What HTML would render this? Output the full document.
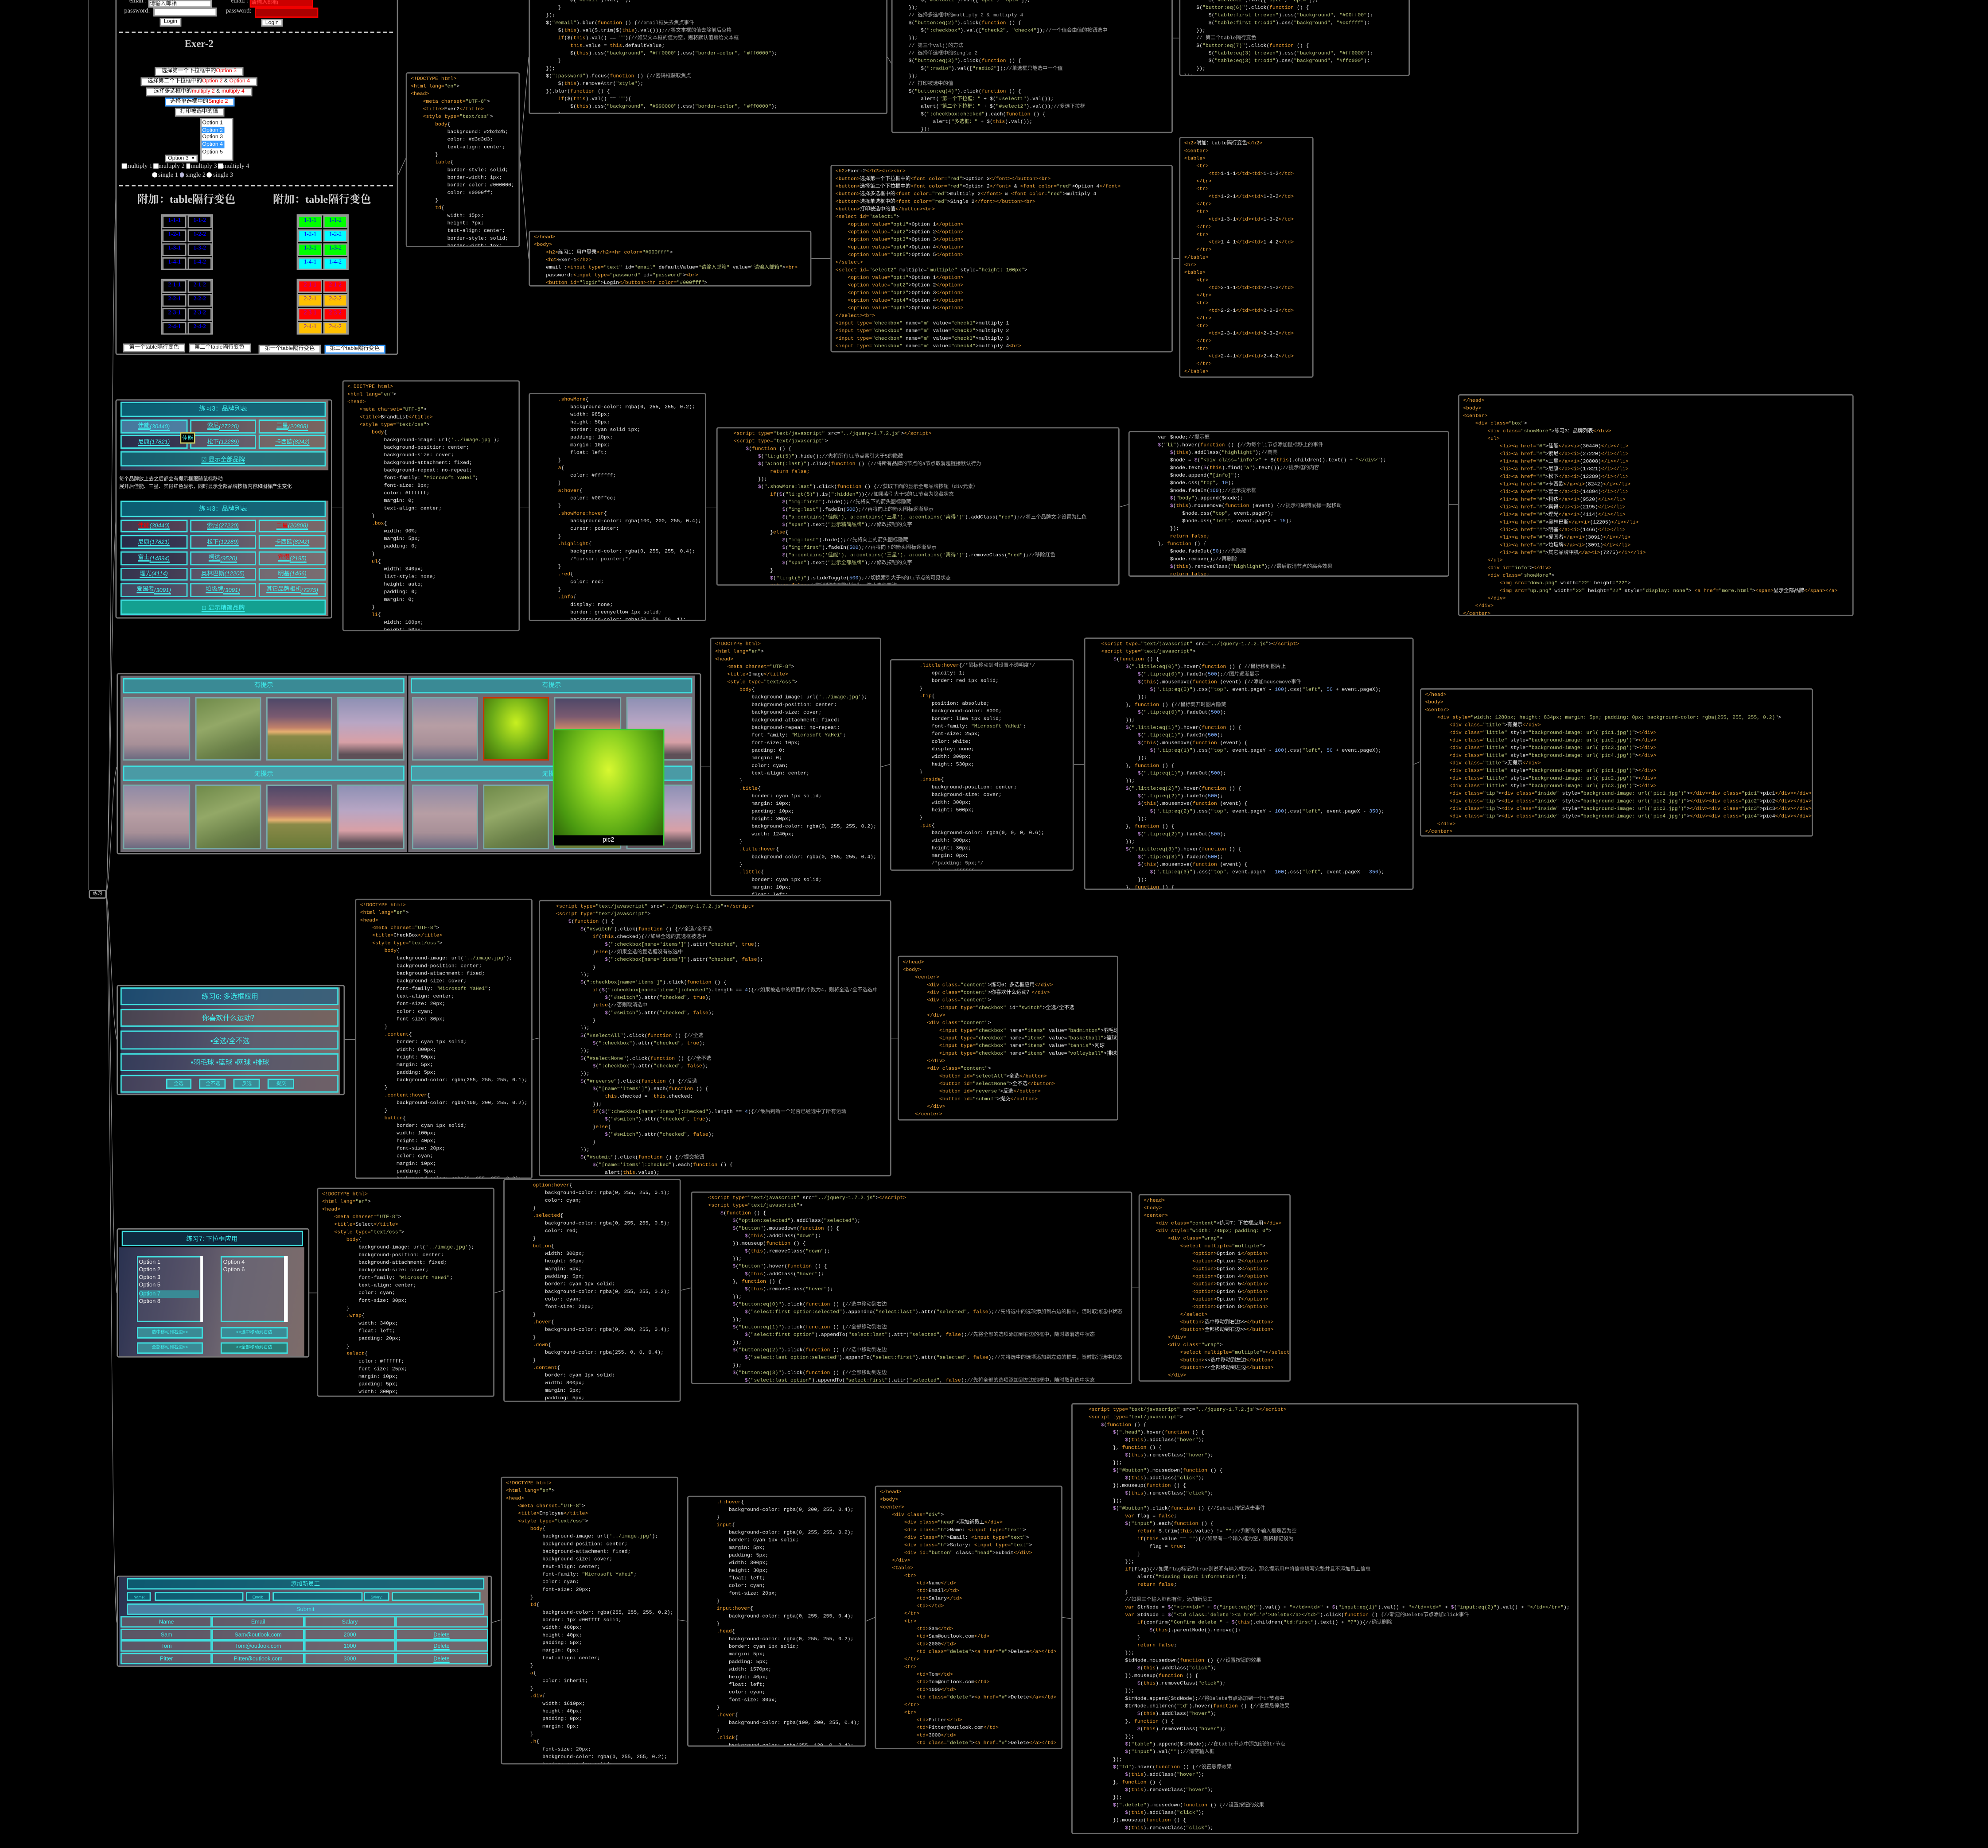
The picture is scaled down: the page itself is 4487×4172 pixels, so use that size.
<!DOCTYPE html>
<html><head><meta charset="UTF-8">
<style>
html,body{margin:0;padding:0;background:#000;}
body{width:4487px;height:4171px;overflow:hidden;position:relative;}
#s{position:absolute;left:0;top:0;width:1568px;height:1458px;transform:scale(2.8616);transform-origin:0 0;}
.a{position:absolute;box-sizing:border-box;}
.cb{position:absolute;box-sizing:border-box;border:0.45px solid #6a6a6a;border-radius:1.6px;background:#000;overflow:hidden;}
.cb pre{margin:0;padding:1.5px 3px;font:4px/6px "Liberation Mono","Noto Sans CJK SC",monospace;color:#e2e2e2;white-space:pre;}
.t{color:#e9a23b}.s{color:#b9c47a}.c{color:#a9a9a9}.k{color:#f0a030}.p{color:#c58be0}.n{color:#7fb0ff}
.pan{position:absolute;box-sizing:border-box;border:0.45px solid #777;border-radius:1.6px;background:#000;}
.sf{font-family:"Liberation Serif","Noto Serif CJK SC",serif;color:#cfcfcf;}
.ss{font-family:"Liberation Sans","Noto Sans CJK SC",sans-serif;}
.wb{position:absolute;box-sizing:border-box;background:#fff;border:0.3px solid #999;font:4.3px/1 "Liberation Sans","Noto Sans CJK SC",sans-serif;color:#111;text-align:center;display:flex;align-items:center;justify-content:center;white-space:nowrap;}
.r{color:#e00}
.tb{position:absolute;box-sizing:border-box;border:0.4px solid #3fe0e0;background:rgba(15,120,140,.55);color:#3ff0f0;font-family:"Liberation Sans","Noto Sans CJK SC",sans-serif;text-align:center;display:flex;align-items:center;justify-content:center;white-space:nowrap;}
.cell{position:absolute;box-sizing:border-box;border:0.3px solid #999;font:bold 4.6px/1 "Liberation Serif",serif;color:#00f;display:flex;align-items:center;justify-content:center;}
.im{position:absolute;box-sizing:border-box;border:0.3px solid #7aa;}
.im1{background:linear-gradient(180deg,#8f8aa6 0%,#b79ea4 45%,#a89098 75%,#6c6a80 100%);}
.im2{background:linear-gradient(160deg,#6f8a4a,#93a867 40%,#6a8048 75%,#5a6a40 100%);}
.im3{background:linear-gradient(180deg,#4e4868 0%,#7a5a70 30%,#c0806a 48%,#e6b070 55%,#8a8a48 62%,#6a7a38 100%);}
.im4{background:linear-gradient(180deg,#8e90b4 0%,#b8a6c4 40%,#d8a0a6 72%,#5e5058 92%);}
.ph{background:linear-gradient(100deg,#2a3250 0%,#4a4660 30%,#6e6670 60%,#7d6c6a 100%);}
.u{text-decoration:underline}
</style></head><body><div id="s">

<svg class="a" style="left:0;top:0;width:1568px;height:1458px" viewBox="0 0 1568 1458">
<g fill="none" stroke="#8a8a8a" stroke-width="0.45">
<path d="M70 0 L70 702"/>
<path d="M84 705 C88 600 88 200 92 140"/>
<path d="M84 705 C88 600 88 450 92 400"/>
<path d="M84 705 C88 680 88 620 92 605"/>
<path d="M84 705 C88 740 88 800 92 820"/>
<path d="M84 705 C88 800 88 980 92 1020"/>
<path d="M84 705 C88 900 88 1240 92 1280"/>
<path d="M313 140 L320 125"/><path d="M410 125 L417 45"/><path d="M410 125 L417 204"/>
<path d="M700 45 L703 50"/><path d="M925 30 L930 30"/><path d="M640 204 L655 204"/><path d="M925 204 L930 204"/>
<path d="M262 400 L270 400"/><path d="M410 400 L417 400"/><path d="M557 400 L565 400"/><path d="M883 400 L890 398"/><path d="M1143 398 L1150 398"/>
<path d="M552 605 L560 605"/><path d="M695 605 L702 603"/><path d="M847 603 L855 603"/><path d="M1115 603 L1120 601"/>
<path d="M272 820 L280 820"/><path d="M420 820 L425 819"/><path d="M703 819 L708 819"/>
<path d="M243 1020 L250 1020"/><path d="M390 1020 L397 1018"/><path d="M537 1018 L545 1016"/><path d="M893 1016 L898 1016"/>
<path d="M388 1280 L395 1278"/><path d="M535 1278 L542 1279"/><path d="M683 1279 L690 1276"/><path d="M838 1276 L845 1277"/>
</g></svg>
<div class="a ss" style="left:70px;top:702px;width:14px;height:7px;border:0.4px solid #888;border-radius:1.5px;color:#fff;font-size:3.6px;display:flex;align-items:center;justify-content:center">练习</div>

<!-- Panel A -->
<div class="pan" style="left:91px;top:-5px;width:222.5px;height:285px"></div>
<div class="a sf" style="left:102px;top:-1px;font-size:5px">email :</div>
<div class="wb" style="left:117px;top:0;width:50px;height:5.6px;justify-content:flex-start;color:#333">请输入邮箱</div>
<div class="a sf" style="left:98px;top:6.5px;font-size:5px">password:</div>
<div class="wb" style="left:121px;top:5.6px;width:50px;height:7.6px"></div>
<div class="wb" style="left:126px;top:14px;width:17px;height:6.5px">Login</div>
<div class="a sf" style="left:182px;top:-1px;font-size:5px">email :</div>
<div class="wb" style="left:197px;top:-1px;width:50px;height:7px;background:#c00;border-color:#f00;color:#f33;justify-content:flex-start;font-weight:bold">请输入邮箱</div>
<div class="a sf" style="left:178px;top:6.5px;font-size:5px">password:</div>
<div class="wb" style="left:201px;top:6px;width:50px;height:7.6px;background:#a00;border-color:#e00"></div>
<div class="wb" style="left:206px;top:14.5px;width:17px;height:6.5px">Login</div>
<div class="a" style="left:94px;top:25px;width:216px;border-top:0.35px dashed #ccc"></div>
<div class="a sf" style="left:137px;top:30px;width:40px;text-align:center;font-size:8px;font-weight:bold">Exer-2</div>
<div class="wb" style="left:122px;top:53px;width:70px;height:7px">选择第一个下拉框中的<span class="r">Option 3</span></div>
<div class="wb" style="left:110.5px;top:61px;width:92.5px;height:7px">选择第二个下拉框中的<span class="r">Option 2</span>&nbsp;&amp;&nbsp;<span class="r">Option 4</span></div>
<div class="wb" style="left:115px;top:69px;width:84px;height:7px">选择多选框中的<span class="r">multiply 2</span>&nbsp;&amp;&nbsp;<span class="r">multiply 4</span></div>
<div class="wb" style="left:129.5px;top:77px;width:55px;height:7px;border-color:#39f">选择单选框中的<span class="r">Single 2</span></div>
<div class="wb" style="left:137.5px;top:85px;width:39px;height:7px">打印被选中的值</div>
<div class="a" style="left:157.5px;top:92.7px;width:26px;height:34.7px;background:#fff;border:0.3px solid #999;font:4.3px/5.6px 'Liberation Sans',sans-serif;color:#111;padding-top:0.5px">
<div style="padding-left:1px">Option 1</div><div style="padding-left:1px;background:#39f;color:#fff;width:17px">Option 2</div><div style="padding-left:1px">Option 3</div><div style="padding-left:1px;background:#39f;color:#fff;width:17px">Option 4</div><div style="padding-left:1px">Option 5</div></div>
<div class="wb" style="left:130px;top:121.6px;width:26px;height:6.4px;justify-content:flex-start;padding-left:1.5px">Option 3 &nbsp;▾</div>
<div class="a sf" style="left:96px;top:129px;font-size:5px;white-space:nowrap"><span style="display:inline-block;width:3.5px;height:3.5px;background:#fff"></span>multiply 1 <span style="display:inline-block;width:3.5px;height:3.5px;background:#fff"></span>multiply 2 <span style="display:inline-block;width:3.5px;height:3.5px;background:#fff"></span>multiply 3 <span style="display:inline-block;width:3.5px;height:3.5px;background:#fff"></span>multiply 4</div>
<div class="a sf" style="left:120px;top:136px;font-size:5px;white-space:nowrap"><span style="display:inline-block;width:3.5px;height:3.5px;background:#fff;border-radius:50%"></span> single 1 <span style="display:inline-block;width:3.5px;height:3.5px;background:#bbd;border-radius:50%"></span> single 2 <span style="display:inline-block;width:3.5px;height:3.5px;background:#fff;border-radius:50%"></span> single 3</div>
<div class="a" style="left:94px;top:146px;width:216px;border-top:0.35px dashed #ccc"></div>
<div class="a sf" style="left:102px;top:151px;width:90px;text-align:center;font-size:8.5px;font-weight:bold;white-space:nowrap">附加：table隔行变色</div>
<div class="a sf" style="left:209px;top:151px;width:90px;text-align:center;font-size:8.5px;font-weight:bold;white-space:nowrap">附加：table隔行变色</div>

<div class="a" style="left:127px;top:168.5px;width:40.5px;height:44.5px;border:0.3px solid #999"></div>
<div class="cell" style="left:128px;top:169.5px;width:19.3px;height:10.3px">1-1-1</div><div class="cell" style="left:148px;top:169.5px;width:19px;height:10.3px">1-1-2</div>
<div class="cell" style="left:128px;top:180.5px;width:19.3px;height:10.3px">1-2-1</div><div class="cell" style="left:148px;top:180.5px;width:19px;height:10.3px">1-2-2</div>
<div class="cell" style="left:128px;top:191.5px;width:19.3px;height:10.3px">1-3-1</div><div class="cell" style="left:148px;top:191.5px;width:19px;height:10.3px">1-3-2</div>
<div class="cell" style="left:128px;top:202.5px;width:19.3px;height:10.3px">1-4-1</div><div class="cell" style="left:148px;top:202.5px;width:19px;height:10.3px">1-4-2</div>
<div class="a" style="left:127px;top:219.5px;width:40.5px;height:44.5px;border:0.3px solid #999"></div>
<div class="cell" style="left:128px;top:220.5px;width:19.3px;height:10.3px">2-1-1</div><div class="cell" style="left:148px;top:220.5px;width:19px;height:10.3px">2-1-2</div>
<div class="cell" style="left:128px;top:231.5px;width:19.3px;height:10.3px">2-2-1</div><div class="cell" style="left:148px;top:231.5px;width:19px;height:10.3px">2-2-2</div>
<div class="cell" style="left:128px;top:242.5px;width:19.3px;height:10.3px">2-3-1</div><div class="cell" style="left:148px;top:242.5px;width:19px;height:10.3px">2-3-2</div>
<div class="cell" style="left:128px;top:253.5px;width:19.3px;height:10.3px">2-4-1</div><div class="cell" style="left:148px;top:253.5px;width:19px;height:10.3px">2-4-2</div>

<div class="a" style="left:234px;top:168.5px;width:40.5px;height:44.5px;border:0.3px solid #999"></div>
<div class="cell" style="left:235px;top:169.5px;width:19.3px;height:10.3px;background:#0f0;font-weight:normal">1-1-1</div><div class="cell" style="left:255px;top:169.5px;width:19px;height:10.3px;background:#0f0;font-weight:normal">1-1-2</div>
<div class="cell" style="left:235px;top:180.5px;width:19.3px;height:10.3px;background:#0ff;font-weight:normal">1-2-1</div><div class="cell" style="left:255px;top:180.5px;width:19px;height:10.3px;background:#0ff;font-weight:normal">1-2-2</div>
<div class="cell" style="left:235px;top:191.5px;width:19.3px;height:10.3px;background:#0f0;font-weight:normal">1-3-1</div><div class="cell" style="left:255px;top:191.5px;width:19px;height:10.3px;background:#0f0;font-weight:normal">1-3-2</div>
<div class="cell" style="left:235px;top:202.5px;width:19.3px;height:10.3px;background:#0ff;font-weight:normal">1-4-1</div><div class="cell" style="left:255px;top:202.5px;width:19px;height:10.3px;background:#0ff;font-weight:normal">1-4-2</div>
<div class="a" style="left:234px;top:219.5px;width:40.5px;height:44.5px;border:0.3px solid #999"></div>
<div class="cell" style="left:235px;top:220.5px;width:19.3px;height:10.3px;background:#f00;color:#80f;font-weight:normal">2-1-1</div><div class="cell" style="left:255px;top:220.5px;width:19px;height:10.3px;background:#f00;color:#80f;font-weight:normal">2-1-2</div>
<div class="cell" style="left:235px;top:231.5px;width:19.3px;height:10.3px;background:#ffc000;color:#60c;font-weight:normal">2-2-1</div><div class="cell" style="left:255px;top:231.5px;width:19px;height:10.3px;background:#ffc000;color:#60c;font-weight:normal">2-2-2</div>
<div class="cell" style="left:235px;top:242.5px;width:19.3px;height:10.3px;background:#f00;color:#80f;font-weight:normal">2-3-1</div><div class="cell" style="left:255px;top:242.5px;width:19px;height:10.3px;background:#f00;color:#80f;font-weight:normal">2-3-2</div>
<div class="cell" style="left:235px;top:253.5px;width:19.3px;height:10.3px;background:#ffc000;color:#60c;font-weight:normal">2-4-1</div><div class="cell" style="left:255px;top:253.5px;width:19px;height:10.3px;background:#ffc000;color:#60c;font-weight:normal">2-4-2</div>
<div class="wb" style="left:97px;top:271px;width:49px;height:7px">第一个table隔行变色</div>
<div class="wb" style="left:148.6px;top:271px;width:49px;height:7px">第二个table隔行变色</div>
<div class="wb" style="left:204px;top:271.5px;width:49px;height:7px">第一个table隔行变色</div>
<div class="wb" style="left:255.5px;top:271.5px;width:48.5px;height:7px;border-color:#39f">第二个table隔行变色</div>

<!-- Panel B -->
<div class="pan" style="left:91.4px;top:315px;width:171px;height:172.6px"></div>
<div class="a ph" style="left:95px;top:316px;width:164px;height:55px"></div>
<div class="a ph" style="left:95px;top:395px;width:164px;height:91px"></div>
<div class="tb" style="left:95px;top:316.6px;width:162px;height:12.4px;font-size:5px;background:rgba(5,100,120,.85)">练习3：品牌列表</div>
<div class="tb u" style="left:95px;top:331px;width:52.8px;height:10.6px;font-size:4.6px;background:rgba(80,150,190,.7)">佳能<i>(30440)</i></div>
<div class="tb u" style="left:149.6px;top:331px;width:52.8px;height:10.6px;font-size:4.6px;background:rgba(100,80,80,.4)">索尼<i>(27220)</i></div>
<div class="tb u" style="left:204px;top:331px;width:53.2px;height:10.6px;font-size:4.6px;background:rgba(120,90,80,.4)">三星<i>(20808)</i></div>
<div class="tb u" style="left:95px;top:343.4px;width:52.8px;height:10.6px;font-size:4.6px;background:rgba(30,30,60,.4)">尼康<i>(17821)</i></div>
<div class="tb u" style="left:149.6px;top:343.4px;width:52.8px;height:10.6px;font-size:4.6px;background:rgba(90,80,100,.4)">松下<i>(12289)</i></div>
<div class="tb u" style="left:204px;top:343.4px;width:53.2px;height:10.6px;font-size:4.6px;background:rgba(120,100,90,.4)">卡西欧<i>(8242)</i></div>
<div class="a ss" style="left:141.7px;top:341px;width:12.6px;height:9px;background:#000;border:0.3px solid #cc6;color:#3ff0f0;font-size:4.4px;display:flex;align-items:center;justify-content:center">佳能</div>
<div class="tb u" style="left:95px;top:356px;width:162px;height:12.4px;font-size:4.8px;background:rgba(10,110,120,.7)">☑ 显示全部品牌</div>
<div class="a ss" style="left:94px;top:374.5px;font-size:3.9px;line-height:6.2px;color:#ddd;white-space:nowrap">每个品牌放上去之后都会有提示框跟随鼠标移动<br>展开后佳能、三星、宾得红色显示，同时显示全部品牌按钮内容和图标产生变化</div>
<div class="tb" style="left:95px;top:395.2px;width:162px;height:12.8px;font-size:5px;background:rgba(5,100,120,.85)">练习3：品牌列表</div>
<div class="tb u" style="left:95px;top:409.6px;width:52.6px;height:10.8px;font-size:4.6px;background:rgba(100,60,70,.4)"><span class="r">佳能</span><i>(30440)</i></div>
<div class="tb u" style="left:149.5px;top:409.6px;width:52.6px;height:10.8px;font-size:4.6px;background:rgba(100,80,90,.4)">索尼<i>(27220)</i></div>
<div class="tb u" style="left:204px;top:409.6px;width:53px;height:10.8px;font-size:4.6px;background:rgba(120,100,100,.4)"><span class="r">三星</span><i>(20808)</i></div>
<div class="tb u" style="left:95px;top:422.3px;width:52.6px;height:10.8px;font-size:4.6px;background:rgba(30,30,60,.4)">尼康<i>(17821)</i></div>
<div class="tb u" style="left:149.5px;top:422.3px;width:52.6px;height:10.8px;font-size:4.6px;background:rgba(90,80,100,.4)">松下<i>(12289)</i></div>
<div class="tb u" style="left:204px;top:422.3px;width:53px;height:10.8px;font-size:4.6px;background:rgba(120,100,110,.4)">卡西欧<i>(8242)</i></div>
<div class="tb u" style="left:95px;top:435px;width:52.6px;height:10.8px;font-size:4.6px;background:rgba(30,30,50,.4)">富士<i>(14894)</i></div>
<div class="tb u" style="left:149.5px;top:435px;width:52.6px;height:10.8px;font-size:4.6px;background:rgba(90,90,110,.4)">柯达<i>(9520)</i></div>
<div class="tb u" style="left:204px;top:435px;width:53px;height:10.8px;font-size:4.6px;background:rgba(120,110,120,.4)"><span class="r">宾得</span><i>(2195)</i></div>
<div class="tb u" style="left:95px;top:447.5px;width:52.6px;height:10.8px;font-size:4.6px;background:rgba(60,50,70,.4)">理光<i>(4114)</i></div>
<div class="tb u" style="left:149.5px;top:447.5px;width:52.6px;height:10.8px;font-size:4.6px;background:rgba(100,90,110,.4)">奥林巴斯<i>(12205)</i></div>
<div class="tb u" style="left:204px;top:447.5px;width:53px;height:10.8px;font-size:4.6px;background:rgba(120,110,120,.4)">明基<i>(1466)</i></div>
<div class="tb u" style="left:95px;top:460px;width:52.6px;height:10.8px;font-size:4.6px;background:rgba(90,90,110,.4)">爱国者<i>(3091)</i></div>
<div class="tb u" style="left:149.5px;top:460px;width:52.6px;height:10.8px;font-size:4.6px;background:rgba(100,100,110,.4)">垃圾牌<i>(3091)</i></div>
<div class="tb u" style="left:204px;top:460px;width:53px;height:10.8px;font-size:4.6px;background:rgba(110,110,120,.4)">其它品牌相机<i>(7275)</i></div>
<div class="tb u" style="left:95px;top:473px;width:162px;height:12px;font-size:4.8px;background:#13a090">⊡ 显示精简品牌</div>

<!-- Panel C -->
<div class="pan" style="left:91.5px;top:531px;width:461px;height:143px"></div>
<div class="a" style="left:95.2px;top:533px;width:225.6px;height:139px;background:#6e6a72"></div>
<div class="a" style="left:322px;top:533px;width:226px;height:139px;background:#6e6a72"></div>
<div class="tb" style="left:97px;top:534.6px;width:222px;height:12px;font-size:5px;background:#3a8a95">有提示</div>
<div class="tb" style="left:324.2px;top:534.6px;width:221.8px;height:12px;font-size:5px;background:#3a8a95">有提示</div>
<div class="im im1" style="left:97.4px;top:550px;width:52.4px;height:50.3px"></div>
<div class="im im2" style="left:153.9px;top:550px;width:52.1px;height:50.3px"></div>
<div class="im im3" style="left:210px;top:550px;width:52.1px;height:50.3px"></div>
<div class="im im4" style="left:266.2px;top:550px;width:52.4px;height:50.3px"></div>
<div class="im im1" style="left:324.5px;top:550px;width:52.5px;height:50.3px"></div>
<div class="im" style="left:381px;top:550px;width:52.4px;height:50.3px;background:radial-gradient(ellipse at 50% 40%,#c8f020,#6aaa18 55%,#3a6a08);border:0.5px solid #c30"></div>
<div class="im im3" style="left:437.2px;top:550px;width:52.4px;height:50.3px"></div>
<div class="im im4" style="left:493.6px;top:550px;width:52.4px;height:50.3px"></div>
<div class="tb" style="left:97px;top:604px;width:222px;height:12px;font-size:5px;background:#4a9aa5">无提示</div>
<div class="tb" style="left:324.2px;top:604px;width:221.8px;height:12px;font-size:5px;background:#4a9aa5">无提示</div>
<div class="im im1" style="left:97.4px;top:619.2px;width:52.4px;height:50.4px"></div>
<div class="im im2" style="left:153.9px;top:619.2px;width:52.1px;height:50.4px"></div>
<div class="im im3" style="left:210px;top:619.2px;width:52.1px;height:50.4px"></div>
<div class="im im4" style="left:266.2px;top:619.2px;width:52.4px;height:50.4px"></div>
<div class="im im1" style="left:324.5px;top:619.2px;width:52.5px;height:50.4px"></div>
<div class="im im2" style="left:381px;top:619.2px;width:52.4px;height:50.4px"></div>
<div class="im im3" style="left:437.2px;top:619.2px;width:52.4px;height:50.4px"></div>
<div class="im im4" style="left:493.6px;top:619.2px;width:52.4px;height:50.4px"></div>
<div class="a" style="left:436.2px;top:575.4px;width:87.4px;height:92px;border:0.4px solid #3c3;background:radial-gradient(ellipse at 50% 35%,#d8f830,#8ad020 35%,#4a9a10 70%,#2a5a08)"></div>
<div class="a ss" style="left:436.6px;top:659px;width:86.6px;height:8px;background:#000;color:#fff;font-size:5px;display:flex;align-items:center;justify-content:center">pic2</div>

<!-- Panel D -->
<div class="pan" style="left:91.5px;top:777px;width:180.3px;height:87px"></div>
<div class="a ph" style="left:95px;top:778.5px;width:173px;height:84.5px"></div>
<div class="tb" style="left:95.3px;top:778.8px;width:172.2px;height:14.7px;font-size:5.5px;background:rgba(20,90,130,.6)">练习6: 多选框应用</div>
<div class="tb" style="left:95.3px;top:796.3px;width:172.2px;height:14.2px;font-size:5.5px;background:rgba(110,90,80,.4)">你喜欢什么运动？</div>
<div class="tb" style="left:95.3px;top:813.3px;width:172.2px;height:14.5px;font-size:5.5px;background:rgba(70,80,110,.4)">▪全选/全不选</div>
<div class="tb" style="left:95.3px;top:830.6px;width:172.2px;height:14.6px;font-size:5.5px;background:rgba(60,70,100,.4)">▪羽毛球 ▪篮球 ▪网球 ▪排球</div>
<div class="tb" style="left:95.3px;top:847.6px;width:172.2px;height:14.9px;background:rgba(90,80,100,.4)"></div>
<div class="tb" style="left:130.5px;top:850.9px;width:20.8px;height:8.4px;font-size:3.8px;background:#3a8a95">全选</div>
<div class="tb" style="left:157.4px;top:850.9px;width:21.1px;height:8.4px;font-size:3.8px;background:#3a8a95">全不选</div>
<div class="tb" style="left:184.2px;top:850.9px;width:21.1px;height:8.4px;font-size:3.8px;background:#3a8a95">反选</div>
<div class="tb" style="left:211.3px;top:850.9px;width:21px;height:8.4px;font-size:3.8px;background:#3a8a95">提交</div>

<!-- Panel E -->
<div class="pan" style="left:91.5px;top:969.4px;width:152px;height:101.3px"></div>
<div class="a ph" style="left:94px;top:984px;width:146px;height:86px"></div>
<div class="tb" style="left:95.5px;top:971.4px;width:143.3px;height:12.1px;font-size:5px;background:rgba(20,60,90,.7)">练习7: 下拉框应用</div>
<div class="a" style="left:107.7px;top:990.7px;width:52.5px;height:52.3px;border:0.3px solid #4dd;background:rgba(90,90,110,.4)"></div>
<div class="a" style="left:157.5px;top:990.9px;width:2.5px;height:52px;background:#fff"></div>
<div class="a ss" style="left:109.5px;top:992.5px;font-size:4.5px;line-height:6.3px;color:#eee">Option 1<br>Option 2<br>Option 3<br>Option 5<br><span style="color:#3ff0f0;background:#3a8a95;display:inline-block;width:47px">Option 7</span><br>Option 8</div>
<div class="a" style="left:174.2px;top:990.7px;width:52.5px;height:52.3px;border:0.3px solid #4dd;background:rgba(100,100,120,.4)"></div>
<div class="a" style="left:224px;top:990.9px;width:2.5px;height:52px;background:#fff"></div>
<div class="a ss" style="left:176px;top:992.5px;font-size:4.5px;line-height:6.3px;color:#eee">Option 4<br>Option 6</div>
<div class="tb" style="left:107.7px;top:1046.6px;width:52.5px;height:9px;font-size:3.5px;background:#3a8a95">选中移动到右边&gt;&gt;</div>
<div class="tb" style="left:174.2px;top:1046.6px;width:52.5px;height:9px;font-size:3.5px;background:#3a8a95">&lt;&lt;选中移动到右边</div>
<div class="tb" style="left:107.7px;top:1058.9px;width:52.5px;height:8.8px;font-size:3.5px;background:#3a8a95">全部移动到右边&gt;&gt;</div>
<div class="tb" style="left:174.2px;top:1058.9px;width:52.5px;height:8.8px;font-size:3.5px;background:#2a7a75">&lt;&lt;全部移动到右边</div>

<!-- Panel F -->
<div class="pan" style="left:91.7px;top:1243px;width:296px;height:72px"></div>
<div class="a ph" style="left:94px;top:1244px;width:291px;height:70px"></div>
<div class="tb" style="left:100.1px;top:1245.3px;width:281.5px;height:8.8px;font-size:4.6px;background:rgba(5,100,120,.8)">添加新员工</div>
<div class="tb" style="left:100.1px;top:1256px;width:19.3px;height:7.3px;font-size:3px;background:rgba(5,100,120,.8)">Name:</div>
<div class="tb" style="left:121.5px;top:1256px;width:70.2px;height:7.3px;background:rgba(5,100,120,.8)"></div>
<div class="tb" style="left:193.7px;top:1256px;width:19.2px;height:7.3px;font-size:3px;background:rgba(5,100,120,.8)">Email:</div>
<div class="tb" style="left:215px;top:1256px;width:70.5px;height:7.3px;background:rgba(5,100,120,.8)"></div>
<div class="tb" style="left:287.4px;top:1256px;width:19.2px;height:7.3px;font-size:3px;background:rgba(5,100,120,.8)">Salary:</div>
<div class="tb" style="left:308.6px;top:1256px;width:70.4px;height:7.3px;background:rgba(20,110,110,.8)"></div>
<div class="tb" style="left:100.1px;top:1265px;width:281.5px;height:9.2px;font-size:4.6px;background:rgba(80,140,175,.85)">Submit</div>
<div class="a" style="left:95.2px;top:1275.3px;width:289.3px;height:37.5px;background:rgba(110,100,110,.7)"></div>
<div class="tb" style="left:95.2px;top:1275.3px;width:72.2px;height:9.2px;font-size:4.4px;background:transparent">Name</div>
<div class="tb" style="left:167.4px;top:1275.3px;width:72.4px;height:9.2px;font-size:4.4px;background:transparent">Email</div>
<div class="tb" style="left:239.8px;top:1275.3px;width:72.2px;height:9.2px;font-size:4.4px;background:transparent">Salary</div>
<div class="tb" style="left:312px;top:1275.3px;width:72.5px;height:9.2px;background:transparent"></div>
<div class="tb" style="left:95.2px;top:1285px;width:72.2px;height:9px;font-size:4.4px;background:transparent">Sam</div>
<div class="tb" style="left:167.4px;top:1285px;width:72.4px;height:9px;font-size:4.4px;background:transparent">Sam@outlook.com</div>
<div class="tb" style="left:239.8px;top:1285px;width:72.2px;height:9px;font-size:4.4px;background:transparent">2000</div>
<div class="tb u" style="left:312px;top:1285px;width:72.5px;height:9px;font-size:4.4px;background:transparent">Delete</div>
<div class="tb" style="left:95.2px;top:1294.4px;width:72.2px;height:9px;font-size:4.4px;background:transparent">Tom</div>
<div class="tb" style="left:167.4px;top:1294.4px;width:72.4px;height:9px;font-size:4.4px;background:transparent">Tom@outlook.com</div>
<div class="tb" style="left:239.8px;top:1294.4px;width:72.2px;height:9px;font-size:4.4px;background:transparent">1000</div>
<div class="tb u" style="left:312px;top:1294.4px;width:72.5px;height:9px;font-size:4.4px;background:transparent">Delete</div>
<div class="tb" style="left:95.2px;top:1303.9px;width:72.2px;height:9px;font-size:4.4px;background:transparent">Pitter</div>
<div class="tb" style="left:167.4px;top:1303.9px;width:72.4px;height:9px;font-size:4.4px;background:transparent">Pitter@outlook.com</div>
<div class="tb" style="left:239.8px;top:1303.9px;width:72.2px;height:9px;font-size:4.4px;background:transparent">3000</div>
<div class="tb u" style="left:312px;top:1303.9px;width:72.5px;height:9px;font-size:4.4px;background:transparent">Delete</div>

<!-- Code boxes -->
<div class="cb" style="left:320px;top:57px;width:90px;height:138px"><pre><span class="t">&lt;!DOCTYPE html&gt;</span>
<span class="t">&lt;html lang=</span><span class="s">"en"</span>&gt;
<span class="t">&lt;head&gt;</span>
    <span class="t">&lt;meta charset=</span><span class="s">"UTF-8"</span>&gt;
    <span class="t">&lt;title&gt;</span>Exer2<span class="t">&lt;/title&gt;</span>
    <span class="t">&lt;style type=</span><span class="s">"text/css"</span>&gt;
        <span class="k">body</span>{
            background: #2b2b2b;
            color: #d3d3d3;
            text-align: center;
        }
        <span class="k">table</span>{
            border-style: solid;
            border-width: 1px;
            border-color: #000000;
            color: #0000ff;
        }
        <span class="k">td</span>{
            width: 15px;
            height: 7px;
            text-align: center;
            border-style: solid;
            border-width: 1px;
            border-color: #000000;
        }
    <span class="t">&lt;/style&gt;</span></pre></div>

<div class="cb" style="left:417px;top:-5px;width:283px;height:95px"><pre>            $(<span class="s">"#email"</span>).val(<span class="s">""</span>);
        }
    });
    $(<span class="s">"#email"</span>).blur(<span class="k">function</span> () {<span class="c">//email框失去焦点事件</span>
        $(<span class="k">this</span>).val($.trim($(<span class="k">this</span>).val()));<span class="c">//将文本框的值去除前后空格</span>
        <span class="k">if</span>($(<span class="k">this</span>).val() == <span class="s">""</span>){<span class="c">//如果文本框的值为空，则将默认值赋给文本框</span>
            <span class="k">this</span>.value = <span class="k">this</span>.defaultValue;
            $(<span class="k">this</span>).css(<span class="s">"background"</span>, <span class="s">"#ff0000"</span>).css(<span class="s">"border-color"</span>, <span class="s">"#ff0000"</span>);
        }
    });
    $(<span class="s">":password"</span>).focus(<span class="k">function</span> () {<span class="c">//密码框获取焦点</span>
        $(<span class="k">this</span>).removeAttr(<span class="s">"style"</span>);
    }).blur(<span class="k">function</span> () {
        <span class="k">if</span>($(<span class="k">this</span>).val() == <span class="s">""</span>){
            $(<span class="k">this</span>).css(<span class="s">"background"</span>, <span class="s">"#990000"</span>).css(<span class="s">"border-color"</span>, <span class="s">"#ff0000"</span>);
        }
    });</pre></div>

<div class="cb" style="left:417px;top:182px;width:223px;height:44px"><pre><span class="t">&lt;/head&gt;</span>
<span class="t">&lt;body&gt;</span>
    <span class="t">&lt;h2&gt;</span>练习1：用户登录<span class="t">&lt;/h2&gt;&lt;hr color=</span><span class="s">"#000fff"</span>&gt;
    <span class="t">&lt;h2&gt;</span>Exer-1<span class="t">&lt;/h2&gt;</span>
    email :<span class="t">&lt;input type=</span><span class="s">"text"</span> id=<span class="s">"email"</span> defaultValue=<span class="s">"请输入邮箱"</span> value=<span class="s">"请输入邮箱"</span>&gt;<span class="t">&lt;br&gt;</span>
    password:<span class="t">&lt;input type=</span><span class="s">"password"</span> id=<span class="s">"password"</span>&gt;<span class="t">&lt;br&gt;</span>
    <span class="t">&lt;button id=</span><span class="s">"login"</span>&gt;Login<span class="t">&lt;/button&gt;&lt;hr color=</span><span class="s">"#000fff"</span>&gt;</pre></div>

<div class="cb" style="left:703px;top:-5px;width:222px;height:110px"><pre>        $(<span class="s">"#select1"</span>).val([<span class="s">"opt2"</span>, <span class="s">"opt4"</span>]);
    });
    <span class="c">// 选择多选框中的multiply 2 & multiply 4</span>
    $(<span class="s">"button:eq(2)"</span>).click(<span class="k">function</span> () {
        $(<span class="s">":checkbox"</span>).val([<span class="s">"check2"</span>, <span class="s">"check4"</span>]);<span class="c">//一个值会由值的按钮选中</span>
    });
    <span class="c">// 第三个val()的方法</span>
    <span class="c">// 选择单选框中的Single 2</span>
    $(<span class="s">"button:eq(3)"</span>).click(<span class="k">function</span> () {
        $(<span class="s">":radio"</span>).val([<span class="s">"radio2"</span>]);<span class="c">//单选框只能选中一个值</span>
    });
    <span class="c">// 打印被选中的值</span>
    $(<span class="s">"button:eq(4)"</span>).click(<span class="k">function</span> () {
        alert(<span class="s">"第一个下拉框："</span> + $(<span class="s">"#select1"</span>).val());
        alert(<span class="s">"第二个下拉框："</span> + $(<span class="s">"#select2"</span>).val());<span class="c">//多选下拉框</span>
        $(<span class="s">":checkbox:checked"</span>).each(<span class="k">function</span> () {
            alert(<span class="s">"多选框："</span> + $(<span class="k">this</span>).val());
        });
        alert(<span class="s">"单选框："</span> + $(<span class="s">":radio:checked"</span>).val());
    });</pre></div>

<div class="cb" style="left:930px;top:-5px;width:182px;height:65px"><pre>        $(<span class="s">"#select2"</span>).val([<span class="s">"opt2"</span>, <span class="s">"opt4"</span>]);
    $(<span class="s">"button:eq(6)"</span>).click(<span class="k">function</span> () {
        $(<span class="s">"table:first tr:even"</span>).css(<span class="s">"background"</span>, <span class="s">"#00ff00"</span>);
        $(<span class="s">"table:first tr:odd"</span>).css(<span class="s">"background"</span>, <span class="s">"#00ffff"</span>);
    });
    <span class="c">// 第二个table隔行变色</span>
    $(<span class="s">"button:eq(7)"</span>).click(<span class="k">function</span> () {
        $(<span class="s">"table:eq(3) tr:even"</span>).css(<span class="s">"background"</span>, <span class="s">"#ff0000"</span>);
        $(<span class="s">"table:eq(3) tr:odd"</span>).css(<span class="s">"background"</span>, <span class="s">"#ffc000"</span>);
    });
});
<span class="t">&lt;/script&gt;</span></pre></div>

<div class="cb" style="left:655px;top:130px;width:270px;height:148px"><pre><span class="t">&lt;h2&gt;</span>Exer-2<span class="t">&lt;/h2&gt;&lt;br&gt;&lt;br&gt;</span>
<span class="t">&lt;button&gt;</span>选择第一个下拉框中的<span class="t">&lt;font color=</span><span class="s">"red"</span>&gt;Option 3<span class="t">&lt;/font&gt;&lt;/button&gt;&lt;br&gt;</span>
<span class="t">&lt;button&gt;</span>选择第二个下拉框中的<span class="t">&lt;font color=</span><span class="s">"red"</span>&gt;Option 2<span class="t">&lt;/font&gt;</span> &amp; <span class="t">&lt;font color=</span><span class="s">"red"</span>&gt;Option 4<span class="t">&lt;/font&gt;</span>
<span class="t">&lt;button&gt;</span>选择多选框中的<span class="t">&lt;font color=</span><span class="s">"red"</span>&gt;multiply 2<span class="t">&lt;/font&gt;</span> &amp; <span class="t">&lt;font color=</span><span class="s">"red"</span>&gt;multiply 4
<span class="t">&lt;button&gt;</span>选择单选框中的<span class="t">&lt;font color=</span><span class="s">"red"</span>&gt;Single 2<span class="t">&lt;/font&gt;&lt;/button&gt;&lt;br&gt;</span>
<span class="t">&lt;button&gt;</span>打印被选中的值<span class="t">&lt;/button&gt;&lt;br&gt;</span>
<span class="t">&lt;select id=</span><span class="s">"select1"</span>&gt;
    <span class="t">&lt;option value=</span><span class="s">"opt1"</span>&gt;Option 1<span class="t">&lt;/option&gt;</span>
    <span class="t">&lt;option value=</span><span class="s">"opt2"</span>&gt;Option 2<span class="t">&lt;/option&gt;</span>
    <span class="t">&lt;option value=</span><span class="s">"opt3"</span>&gt;Option 3<span class="t">&lt;/option&gt;</span>
    <span class="t">&lt;option value=</span><span class="s">"opt4"</span>&gt;Option 4<span class="t">&lt;/option&gt;</span>
    <span class="t">&lt;option value=</span><span class="s">"opt5"</span>&gt;Option 5<span class="t">&lt;/option&gt;</span>
<span class="t">&lt;/select&gt;</span>
<span class="t">&lt;select id=</span><span class="s">"select2"</span> multiple=<span class="s">"multiple"</span> style=<span class="s">"height: 100px"</span>&gt;
    <span class="t">&lt;option value=</span><span class="s">"opt1"</span>&gt;Option 1<span class="t">&lt;/option&gt;</span>
    <span class="t">&lt;option value=</span><span class="s">"opt2"</span>&gt;Option 2<span class="t">&lt;/option&gt;</span>
    <span class="t">&lt;option value=</span><span class="s">"opt3"</span>&gt;Option 3<span class="t">&lt;/option&gt;</span>
    <span class="t">&lt;option value=</span><span class="s">"opt4"</span>&gt;Option 4<span class="t">&lt;/option&gt;</span>
    <span class="t">&lt;option value=</span><span class="s">"opt5"</span>&gt;Option 5<span class="t">&lt;/option&gt;</span>
<span class="t">&lt;/select&gt;&lt;br&gt;</span>
<span class="t">&lt;input type=</span><span class="s">"checkbox"</span> name=<span class="s">"m"</span> value=<span class="s">"check1"</span>&gt;multiply 1
<span class="t">&lt;input type=</span><span class="s">"checkbox"</span> name=<span class="s">"m"</span> value=<span class="s">"check2"</span>&gt;multiply 2
<span class="t">&lt;input type=</span><span class="s">"checkbox"</span> name=<span class="s">"m"</span> value=<span class="s">"check3"</span>&gt;multiply 3
<span class="t">&lt;input type=</span><span class="s">"checkbox"</span> name=<span class="s">"m"</span> value=<span class="s">"check4"</span>&gt;multiply 4<span class="t">&lt;br&gt;</span>
<span class="t">&lt;input type=</span><span class="s">"radio"</span> name=<span class="s">"s"</span> value=<span class="s">"radio1"</span>&gt;single 1
<span class="t">&lt;input type=</span><span class="s">"radio"</span> name=<span class="s">"s"</span> value=<span class="s">"radio2"</span>&gt;single 2
<span class="t">&lt;input type=</span><span class="s">"radio"</span> name=<span class="s">"s"</span> value=<span class="s">"radio3"</span>&gt;single 3<span class="t">&lt;hr color=</span><span class="s">"#000fff"</span>&gt;</pre></div>

<div class="cb" style="left:930px;top:108px;width:106px;height:190px"><pre><span class="t">&lt;h2&gt;</span>附加：table隔行变色<span class="t">&lt;/h2&gt;</span>
<span class="t">&lt;center&gt;</span>
<span class="t">&lt;table&gt;</span>
    <span class="t">&lt;tr&gt;</span>
        <span class="t">&lt;td&gt;</span>1-1-1<span class="t">&lt;/td&gt;&lt;td&gt;</span>1-1-2<span class="t">&lt;/td&gt;</span>
    <span class="t">&lt;/tr&gt;</span>
    <span class="t">&lt;tr&gt;</span>
        <span class="t">&lt;td&gt;</span>1-2-1<span class="t">&lt;/td&gt;&lt;td&gt;</span>1-2-2<span class="t">&lt;/td&gt;</span>
    <span class="t">&lt;/tr&gt;</span>
    <span class="t">&lt;tr&gt;</span>
        <span class="t">&lt;td&gt;</span>1-3-1<span class="t">&lt;/td&gt;&lt;td&gt;</span>1-3-2<span class="t">&lt;/td&gt;</span>
    <span class="t">&lt;/tr&gt;</span>
    <span class="t">&lt;tr&gt;</span>
        <span class="t">&lt;td&gt;</span>1-4-1<span class="t">&lt;/td&gt;&lt;td&gt;</span>1-4-2<span class="t">&lt;/td&gt;</span>
    <span class="t">&lt;/tr&gt;</span>
<span class="t">&lt;/table&gt;</span>
<span class="t">&lt;br&gt;</span>
<span class="t">&lt;table&gt;</span>
    <span class="t">&lt;tr&gt;</span>
        <span class="t">&lt;td&gt;</span>2-1-1<span class="t">&lt;/td&gt;&lt;td&gt;</span>2-1-2<span class="t">&lt;/td&gt;</span>
    <span class="t">&lt;/tr&gt;</span>
    <span class="t">&lt;tr&gt;</span>
        <span class="t">&lt;td&gt;</span>2-2-1<span class="t">&lt;/td&gt;&lt;td&gt;</span>2-2-2<span class="t">&lt;/td&gt;</span>
    <span class="t">&lt;/tr&gt;</span>
    <span class="t">&lt;tr&gt;</span>
        <span class="t">&lt;td&gt;</span>2-3-1<span class="t">&lt;/td&gt;&lt;td&gt;</span>2-3-2<span class="t">&lt;/td&gt;</span>
    <span class="t">&lt;/tr&gt;</span>
    <span class="t">&lt;tr&gt;</span>
        <span class="t">&lt;td&gt;</span>2-4-1<span class="t">&lt;/td&gt;&lt;td&gt;</span>2-4-2<span class="t">&lt;/td&gt;</span>
    <span class="t">&lt;/tr&gt;</span>
<span class="t">&lt;/table&gt;</span>
<span class="t">&lt;/center&gt;&lt;br&gt;</span>
<span class="t">&lt;button&gt;</span>第一个table隔行变色<span class="t">&lt;/button&gt;</span>
<span class="t">&lt;button&gt;</span>第二个table隔行变色<span class="t">&lt;/button&gt;</span>
<span class="t">&lt;/body&gt;</span>
<span class="t">&lt;/html&gt;</span></pre></div>

<div class="cb" style="left:270px;top:300px;width:140px;height:198px"><pre><span class="t">&lt;!DOCTYPE html&gt;</span>
<span class="t">&lt;html lang=</span><span class="s">"en"</span>&gt;
<span class="t">&lt;head&gt;</span>
    <span class="t">&lt;meta charset=</span><span class="s">"UTF-8"</span>&gt;
    <span class="t">&lt;title&gt;</span>BrandList<span class="t">&lt;/title&gt;</span>
    <span class="t">&lt;style type=</span><span class="s">"text/css"</span>&gt;
        <span class="k">body</span>{
            background-image: url(<span class="s">'../image.jpg'</span>);
            background-position: center;
            background-size: cover;
            background-attachment: fixed;
            background-repeat: no-repeat;
            font-family: <span class="s">"Microsoft YaHei"</span>;
            font-size: 8px;
            color: #ffffff;
            margin: 0;
            text-align: center;
        }
        <span class="k">.box</span>{
            width: 90%;
            margin: 5px;
            padding: 0;
        }
        <span class="k">ul</span>{
            width: 340px;
            list-style: none;
            height: auto;
            padding: 0;
            margin: 0;
        }
        <span class="k">li</span>{
            width: 100px;
            height: 50px;
            float: left;
            margin: 5px;
            padding: 5px 0px;
            border: cyan solid 1px;
            background-color: rgba(255, 255, 255, 0.1);</pre></div>

<div class="cb" style="left:417px;top:310px;width:140px;height:180px"><pre>        <span class="k">.showMore</span>{
            background-color: rgba(0, 255, 255, 0.2);
            width: 985px;
            height: 50px;
            border: cyan solid 1px;
            padding: 10px;
            margin: 10px;
            float: left;
        }
        <span class="k">a</span>{
            color: #ffffff;
        }
        <span class="k">a:hover</span>{
            color: #00ffcc;
        }
        <span class="k">.showMore:hover</span>{
            background-color: rgba(100, 200, 255, 0.4);
            cursor: pointer;
        }
        <span class="k">.highlight</span>{
            background-color: rgba(0, 255, 255, 0.4);
            <span class="c">/*cursor: pointer;*/</span>
        }
        <span class="k">.red</span>{
            color: red;
        }
        <span class="k">.info</span>{
            display: none;
            border: greenyellow 1px solid;
            background-color: rgba(50, 50, 50, 1);
            padding: 5px;
            position: absolute;
        }
    <span class="t">&lt;/style&gt;</span></pre></div>

<div class="cb" style="left:565px;top:337px;width:318px;height:125px"><pre>    <span class="t">&lt;script type=</span><span class="s">"text/javascript"</span> src=<span class="s">"../jquery-1.7.2.js"</span>&gt;<span class="t">&lt;/script&gt;</span>
    <span class="t">&lt;script type=</span><span class="s">"text/javascript"</span>&gt;
        <span class="p">$</span>(<span class="k">function</span> () {
            <span class="p">$</span>(<span class="s">"li:gt(5)"</span>).hide();<span class="c">//先将所有li节点索引大于5的隐藏</span>
            <span class="p">$</span>(<span class="s">"a:not(:last)"</span>).click(<span class="k">function</span> () {<span class="c">//将所有品牌的节点的a节点取消超链接默认行为</span>
                <span class="k">return false;</span>
            });
            <span class="p">$</span>(<span class="s">".showMore:last"</span>).click(<span class="k">function</span> () {<span class="c">//获取下面的显示全部品牌按钮（div元素）</span>
                <span class="k">if</span>(<span class="p">$</span>(<span class="s">"li:gt(5)"</span>).is(<span class="s">":hidden"</span>)){<span class="c">//如果索引大于5的li节点为隐藏状态</span>
                    <span class="p">$</span>(<span class="s">"img:first"</span>).hide();<span class="c">//先将向下的箭头图标隐藏</span>
                    <span class="p">$</span>(<span class="s">"img:last"</span>).fadeIn(<span class="n">500</span>);<span class="c">//再将向上的箭头图标逐渐显示</span>
                    <span class="p">$</span>(<span class="s">"a:contains('佳能'), a:contains('三星'), a:contains('宾得')"</span>).addClass(<span class="s">"red"</span>);<span class="c">//将三个品牌文字设置为红色</span>
                    <span class="p">$</span>(<span class="s">"span"</span>).text(<span class="s">"显示精简品牌"</span>);<span class="c">//修改按钮的文字</span>
                }<span class="k">else</span>{
                    <span class="p">$</span>(<span class="s">"img:last"</span>).hide();<span class="c">//先将向上的箭头图标隐藏</span>
                    <span class="p">$</span>(<span class="s">"img:first"</span>).fadeIn(<span class="n">500</span>);<span class="c">//再将向下的箭头图标逐渐显示</span>
                    <span class="p">$</span>(<span class="s">"a:contains('佳能'), a:contains('三星'), a:contains('宾得')"</span>).removeClass(<span class="s">"red"</span>);<span class="c">//移除红色</span>
                    <span class="p">$</span>(<span class="s">"span"</span>).text(<span class="s">"显示全部品牌"</span>);<span class="c">//修改按钮的文字</span>
                }
                <span class="p">$</span>(<span class="s">"li:gt(5)"</span>).slideToggle(<span class="n">500</span>);<span class="c">//切换索引大于5的li节点的可见状态</span>
                <span class="k">return false;</span><span class="c">//取消超链接默认行为，防止事件冒泡</span>
            });</pre></div>

<div class="cb" style="left:890px;top:340px;width:253px;height:115px"><pre>        var $node;<span class="c">//提示框</span>
        <span class="p">$</span>(<span class="s">"li"</span>).hover(<span class="k">function</span> () {<span class="c">//为每个li节点添加鼠标移上的事件</span>
            <span class="p">$</span>(<span class="k">this</span>).addClass(<span class="s">"highlight"</span>);<span class="c">//高亮</span>
            $node = <span class="p">$</span>(<span class="s">"&lt;div class='info'&gt;"</span> + $(<span class="k">this</span>).children().text() + <span class="s">"&lt;/div&gt;"</span>);
            $node.text(<span class="p">$</span>(<span class="k">this</span>).find(<span class="s">"a"</span>).text());<span class="c">//提示框的内容</span>
            $node.append(<span class="s">"[info]"</span>);
            $node.css(<span class="s">"top"</span>, <span class="n">10</span>);
            $node.fadeIn(<span class="n">100</span>);<span class="c">//显示提示框</span>
            <span class="p">$</span>(<span class="s">"body"</span>).append($node);
            <span class="p">$</span>(<span class="k">this</span>).mousemove(<span class="k">function</span> (event) {<span class="c">//提示框跟随鼠标一起移动</span>
                $node.css(<span class="s">"top"</span>, event.pageY);
                $node.css(<span class="s">"left"</span>, event.pageX + <span class="n">15</span>);
            });
            <span class="k">return false;</span>
        }, <span class="k">function</span> () {
            $node.fadeOut(<span class="n">50</span>);<span class="c">//先隐藏</span>
            $node.remove();<span class="c">//再删除</span>
            <span class="p">$</span>(<span class="k">this</span>).removeClass(<span class="s">"highlight"</span>);<span class="c">//最后取消节点的高亮效果</span>
            <span class="k">return false;</span>
        });
    });
<span class="t">&lt;/script&gt;</span></pre></div>

<div class="cb" style="left:1150px;top:311px;width:312px;height:175px"><pre><span class="t">&lt;/head&gt;</span>
<span class="t">&lt;body&gt;</span>
<span class="t">&lt;center&gt;</span>
    <span class="t">&lt;div class=</span><span class="s">"box"</span>&gt;
        <span class="t">&lt;div class=</span><span class="s">"showMore"</span>&gt;练习3：品牌列表<span class="t">&lt;/div&gt;</span>
        <span class="t">&lt;ul&gt;</span>
            <span class="t">&lt;li&gt;&lt;a href=</span><span class="s">"#"</span>&gt;佳能<span class="t">&lt;/a&gt;&lt;i&gt;</span>(30440)<span class="t">&lt;/i&gt;&lt;/li&gt;</span>
            <span class="t">&lt;li&gt;&lt;a href=</span><span class="s">"#"</span>&gt;索尼<span class="t">&lt;/a&gt;&lt;i&gt;</span>(27220)<span class="t">&lt;/i&gt;&lt;/li&gt;</span>
            <span class="t">&lt;li&gt;&lt;a href=</span><span class="s">"#"</span>&gt;三星<span class="t">&lt;/a&gt;&lt;i&gt;</span>(20808)<span class="t">&lt;/i&gt;&lt;/li&gt;</span>
            <span class="t">&lt;li&gt;&lt;a href=</span><span class="s">"#"</span>&gt;尼康<span class="t">&lt;/a&gt;&lt;i&gt;</span>(17821)<span class="t">&lt;/i&gt;&lt;/li&gt;</span>
            <span class="t">&lt;li&gt;&lt;a href=</span><span class="s">"#"</span>&gt;松下<span class="t">&lt;/a&gt;&lt;i&gt;</span>(12289)<span class="t">&lt;/i&gt;&lt;/li&gt;</span>
            <span class="t">&lt;li&gt;&lt;a href=</span><span class="s">"#"</span>&gt;卡西欧<span class="t">&lt;/a&gt;&lt;i&gt;</span>(8242)<span class="t">&lt;/i&gt;&lt;/li&gt;</span>
            <span class="t">&lt;li&gt;&lt;a href=</span><span class="s">"#"</span>&gt;富士<span class="t">&lt;/a&gt;&lt;i&gt;</span>(14894)<span class="t">&lt;/i&gt;&lt;/li&gt;</span>
            <span class="t">&lt;li&gt;&lt;a href=</span><span class="s">"#"</span>&gt;柯达<span class="t">&lt;/a&gt;&lt;i&gt;</span>(9520)<span class="t">&lt;/i&gt;&lt;/li&gt;</span>
            <span class="t">&lt;li&gt;&lt;a href=</span><span class="s">"#"</span>&gt;宾得<span class="t">&lt;/a&gt;&lt;i&gt;</span>(2195)<span class="t">&lt;/i&gt;&lt;/li&gt;</span>
            <span class="t">&lt;li&gt;&lt;a href=</span><span class="s">"#"</span>&gt;理光<span class="t">&lt;/a&gt;&lt;i&gt;</span>(4114)<span class="t">&lt;/i&gt;&lt;/li&gt;</span>
            <span class="t">&lt;li&gt;&lt;a href=</span><span class="s">"#"</span>&gt;奥林巴斯<span class="t">&lt;/a&gt;&lt;i&gt;</span>(12205)<span class="t">&lt;/i&gt;&lt;/li&gt;</span>
            <span class="t">&lt;li&gt;&lt;a href=</span><span class="s">"#"</span>&gt;明基<span class="t">&lt;/a&gt;&lt;i&gt;</span>(1466)<span class="t">&lt;/i&gt;&lt;/li&gt;</span>
            <span class="t">&lt;li&gt;&lt;a href=</span><span class="s">"#"</span>&gt;爱国者<span class="t">&lt;/a&gt;&lt;i&gt;</span>(3091)<span class="t">&lt;/i&gt;&lt;/li&gt;</span>
            <span class="t">&lt;li&gt;&lt;a href=</span><span class="s">"#"</span>&gt;垃圾牌<span class="t">&lt;/a&gt;&lt;i&gt;</span>(3091)<span class="t">&lt;/i&gt;&lt;/li&gt;</span>
            <span class="t">&lt;li&gt;&lt;a href=</span><span class="s">"#"</span>&gt;其它品牌相机<span class="t">&lt;/a&gt;&lt;i&gt;</span>(7275)<span class="t">&lt;/i&gt;&lt;/li&gt;</span>
        <span class="t">&lt;/ul&gt;</span>
        <span class="t">&lt;div id=</span><span class="s">"info"</span>&gt;<span class="t">&lt;/div&gt;</span>
        <span class="t">&lt;div class=</span><span class="s">"showMore"</span>&gt;
            <span class="t">&lt;img src=</span><span class="s">"down.png"</span> width=<span class="s">"22"</span> height=<span class="s">"22"</span>&gt;
            <span class="t">&lt;img src=</span><span class="s">"up.png"</span> width=<span class="s">"22"</span> height=<span class="s">"22"</span> style=<span class="s">"display: none"</span>&gt; <span class="t">&lt;a href=</span><span class="s">"more.html"</span>&gt;<span class="t">&lt;span&gt;</span>显示全部品牌<span class="t">&lt;/span&gt;&lt;/a&gt;</span>
        <span class="t">&lt;/div&gt;</span>
    <span class="t">&lt;/div&gt;</span>
<span class="t">&lt;/center&gt;</span>
<span class="t">&lt;/body&gt;</span>
<span class="t">&lt;/html&gt;</span></pre></div>

<div class="cb" style="left:560px;top:503px;width:135px;height:204px"><pre><span class="t">&lt;!DOCTYPE html&gt;</span>
<span class="t">&lt;html lang=</span><span class="s">"en"</span>&gt;
<span class="t">&lt;head&gt;</span>
    <span class="t">&lt;meta charset=</span><span class="s">"UTF-8"</span>&gt;
    <span class="t">&lt;title&gt;</span>Image<span class="t">&lt;/title&gt;</span>
    <span class="t">&lt;style type=</span><span class="s">"text/css"</span>&gt;
        <span class="k">body</span>{
            background-image: url(<span class="s">'../image.jpg'</span>);
            background-position: center;
            background-size: cover;
            background-attachment: fixed;
            background-repeat: no-repeat;
            font-family: <span class="s">"Microsoft YaHei"</span>;
            font-size: 10px;
            padding: 0;
            margin: 0;
            color: cyan;
            text-align: center;
        }
        <span class="k">.title</span>{
            border: cyan 1px solid;
            margin: 10px;
            padding: 10px;
            height: 30px;
            background-color: rgba(0, 255, 255, 0.2);
            width: 1240px;
        }
        <span class="k">.title:hover</span>{
            background-color: rgba(0, 255, 255, 0.4);
        }
        <span class="k">.little</span>{
            border: cyan 1px solid;
            margin: 10px;
            float: left;
            background-position: center;
            background-size: cover;
            width: 300px;
            height: 500px;
            opacity: 0.5;</pre></div>

<div class="cb" style="left:702px;top:520px;width:145px;height:167px"><pre>        <span class="k">.little:hover</span>{<span class="c">/*鼠标移动到时设置不透明度*/</span>
            opacity: 1;
            border: red 1px solid;
        }
        <span class="k">.tip</span>{
            position: absolute;
            background-color: #000;
            border: lime 1px solid;
            font-family: <span class="s">"Microsoft YaHei"</span>;
            font-size: 25px;
            color: white;
            display: none;
            width: 300px;
            height: 530px;
        }
        <span class="k">.inside</span>{
            background-position: center;
            background-size: cover;
            width: 300px;
            height: 500px;
        }
        <span class="k">.pic</span>{
            background-color: rgba(0, 0, 0, 0.6);
            width: 300px;
            height: 30px;
            margin: 0px;
            <span class="c">/*padding: 5px;*/</span>
            color: #ffffff;
        }
    <span class="t">&lt;/style&gt;</span></pre></div>

<div class="cb" style="left:855px;top:503px;width:260px;height:199px"><pre>    <span class="t">&lt;script type=</span><span class="s">"text/javascript"</span> src=<span class="s">"../jquery-1.7.2.js"</span>&gt;<span class="t">&lt;/script&gt;</span>
    <span class="t">&lt;script type=</span><span class="s">"text/javascript"</span>&gt;
        <span class="p">$</span>(<span class="k">function</span> () {
            <span class="p">$</span>(<span class="s">".little:eq(0)"</span>).hover(<span class="k">function</span> () { <span class="c">//鼠标移到图片上</span>
                <span class="p">$</span>(<span class="s">".tip:eq(0)"</span>).fadeIn(<span class="n">500</span>);<span class="c">//图片逐渐显示</span>
                <span class="p">$</span>(<span class="k">this</span>).mousemove(<span class="k">function</span> (event) {<span class="c">//添加mousemove事件</span>
                    <span class="p">$</span>(<span class="s">".tip:eq(0)"</span>).css(<span class="s">"top"</span>, event.pageY - <span class="n">100</span>).css(<span class="s">"left"</span>, <span class="n">50</span> + event.pageX);
                });
            }, <span class="k">function</span> () {<span class="c">//鼠标离开时图片隐藏</span>
                <span class="p">$</span>(<span class="s">".tip:eq(0)"</span>).fadeOut(<span class="n">500</span>);
            });
            <span class="p">$</span>(<span class="s">".little:eq(1)"</span>).hover(<span class="k">function</span> () {
                <span class="p">$</span>(<span class="s">".tip:eq(1)"</span>).fadeIn(<span class="n">500</span>);
                <span class="p">$</span>(<span class="k">this</span>).mousemove(<span class="k">function</span> (event) {
                    <span class="p">$</span>(<span class="s">".tip:eq(1)"</span>).css(<span class="s">"top"</span>, event.pageY - <span class="n">100</span>).css(<span class="s">"left"</span>, <span class="n">50</span> + event.pageX);
                });
            }, <span class="k">function</span> () {
                <span class="p">$</span>(<span class="s">".tip:eq(1)"</span>).fadeOut(<span class="n">500</span>);
            });
            <span class="p">$</span>(<span class="s">".little:eq(2)"</span>).hover(<span class="k">function</span> () {
                <span class="p">$</span>(<span class="s">".tip:eq(2)"</span>).fadeIn(<span class="n">500</span>);
                <span class="p">$</span>(<span class="k">this</span>).mousemove(<span class="k">function</span> (event) {
                    <span class="p">$</span>(<span class="s">".tip:eq(2)"</span>).css(<span class="s">"top"</span>, event.pageY - <span class="n">100</span>).css(<span class="s">"left"</span>, event.pageX - <span class="n">350</span>);
                });
            }, <span class="k">function</span> () {
                <span class="p">$</span>(<span class="s">".tip:eq(2)"</span>).fadeOut(<span class="n">500</span>);
            });
            <span class="p">$</span>(<span class="s">".little:eq(3)"</span>).hover(<span class="k">function</span> () {
                <span class="p">$</span>(<span class="s">".tip:eq(3)"</span>).fadeIn(<span class="n">500</span>);
                <span class="p">$</span>(<span class="k">this</span>).mousemove(<span class="k">function</span> (event) {
                    <span class="p">$</span>(<span class="s">".tip:eq(3)"</span>).css(<span class="s">"top"</span>, event.pageY - <span class="n">100</span>).css(<span class="s">"left"</span>, event.pageX - <span class="n">350</span>);
                });
            }, <span class="k">function</span> () {
                <span class="p">$</span>(<span class="s">".tip:eq(3)"</span>).fadeOut(<span class="n">500</span>);
            });
        });
    <span class="t">&lt;/script&gt;</span></pre></div>

<div class="cb" style="left:1120px;top:543px;width:310px;height:117px"><pre><span class="t">&lt;/head&gt;</span>
<span class="t">&lt;body&gt;</span>
<span class="t">&lt;center&gt;</span>
    <span class="t">&lt;div style=</span><span class="s">"width: 1280px; height: 834px; margin: 5px; padding: 0px; background-color: rgba(255, 255, 255, 0.2)"</span>&gt;
        <span class="t">&lt;div class=</span><span class="s">"title"</span>&gt;有提示<span class="t">&lt;/div&gt;</span>
        <span class="t">&lt;div class=</span><span class="s">"little"</span> style=<span class="s">"background-image: url('pic1.jpg')"</span>&gt;<span class="t">&lt;/div&gt;</span>
        <span class="t">&lt;div class=</span><span class="s">"little"</span> style=<span class="s">"background-image: url('pic2.jpg')"</span>&gt;<span class="t">&lt;/div&gt;</span>
        <span class="t">&lt;div class=</span><span class="s">"little"</span> style=<span class="s">"background-image: url('pic3.jpg')"</span>&gt;<span class="t">&lt;/div&gt;</span>
        <span class="t">&lt;div class=</span><span class="s">"little"</span> style=<span class="s">"background-image: url('pic4.jpg')"</span>&gt;<span class="t">&lt;/div&gt;</span>
        <span class="t">&lt;div class=</span><span class="s">"title"</span>&gt;无提示<span class="t">&lt;/div&gt;</span>
        <span class="t">&lt;div class=</span><span class="s">"little"</span> style=<span class="s">"background-image: url('pic1.jpg')"</span>&gt;<span class="t">&lt;/div&gt;</span>
        <span class="t">&lt;div class=</span><span class="s">"little"</span> style=<span class="s">"background-image: url('pic2.jpg')"</span>&gt;<span class="t">&lt;/div&gt;</span>
        <span class="t">&lt;div class=</span><span class="s">"little"</span> style=<span class="s">"background-image: url('pic3.jpg')"</span>&gt;<span class="t">&lt;/div&gt;</span>
        <span class="t">&lt;div class=</span><span class="s">"tip"</span>&gt;<span class="t">&lt;div class=</span><span class="s">"inside"</span> style=<span class="s">"background-image: url('pic1.jpg')"</span>&gt;<span class="t">&lt;/div&gt;&lt;div class=</span><span class="s">"pic1"</span>&gt;pic1<span class="t">&lt;/div&gt;&lt;/div&gt;</span>
        <span class="t">&lt;div class=</span><span class="s">"tip"</span>&gt;<span class="t">&lt;div class=</span><span class="s">"inside"</span> style=<span class="s">"background-image: url('pic2.jpg')"</span>&gt;<span class="t">&lt;/div&gt;&lt;div class=</span><span class="s">"pic2"</span>&gt;pic2<span class="t">&lt;/div&gt;&lt;/div&gt;</span>
        <span class="t">&lt;div class=</span><span class="s">"tip"</span>&gt;<span class="t">&lt;div class=</span><span class="s">"inside"</span> style=<span class="s">"background-image: url('pic3.jpg')"</span>&gt;<span class="t">&lt;/div&gt;&lt;div class=</span><span class="s">"pic3"</span>&gt;pic3<span class="t">&lt;/div&gt;&lt;/div&gt;</span>
        <span class="t">&lt;div class=</span><span class="s">"tip"</span>&gt;<span class="t">&lt;div class=</span><span class="s">"inside"</span> style=<span class="s">"background-image: url('pic4.jpg')"</span>&gt;<span class="t">&lt;/div&gt;&lt;div class=</span><span class="s">"pic4"</span>&gt;pic4<span class="t">&lt;/div&gt;&lt;/div&gt;</span>
    <span class="t">&lt;/div&gt;</span>
<span class="t">&lt;/center&gt;</span>
<span class="t">&lt;/body&gt;</span>
<span class="t">&lt;/html&gt;</span></pre></div>

<div class="cb" style="left:280px;top:709px;width:140px;height:221px"><pre><span class="t">&lt;!DOCTYPE html&gt;</span>
<span class="t">&lt;html lang=</span><span class="s">"en"</span>&gt;
<span class="t">&lt;head&gt;</span>
    <span class="t">&lt;meta charset=</span><span class="s">"UTF-8"</span>&gt;
    <span class="t">&lt;title&gt;</span>CheckBox<span class="t">&lt;/title&gt;</span>
    <span class="t">&lt;style type=</span><span class="s">"text/css"</span>&gt;
        <span class="k">body</span>{
            background-image: url(<span class="s">'../image.jpg'</span>);
            background-position: center;
            background-attachment: fixed;
            background-size: cover;
            font-family: <span class="s">"Microsoft YaHei"</span>;
            text-align: center;
            font-size: 20px;
            color: cyan;
            font-size: 30px;
        }
        <span class="k">.content</span>{
            border: cyan 1px solid;
            width: 800px;
            height: 50px;
            margin: 5px;
            padding: 5px;
            background-color: rgba(255, 255, 255, 0.1);
        }
        <span class="k">.content:hover</span>{
            background-color: rgba(100, 200, 255, 0.2);
        }
        <span class="k">button</span>{
            border: cyan 1px solid;
            width: 100px;
            height: 40px;
            font-size: 20px;
            color: cyan;
            margin: 10px;
            padding: 5px;
            background-color: rgba(0, 255, 255, 0.2);
        }
        <span class="k">button:hover</span>{
            color: red;
            background-color: rgba(0, 255, 255, 0.4);
        }
    <span class="t">&lt;/style&gt;</span></pre></div>

<div class="cb" style="left:425px;top:710px;width:278px;height:218px"><pre>    <span class="t">&lt;script type=</span><span class="s">"text/javascript"</span> src=<span class="s">"../jquery-1.7.2.js"</span>&gt;<span class="t">&lt;/script&gt;</span>
    <span class="t">&lt;script type=</span><span class="s">"text/javascript"</span>&gt;
        <span class="p">$</span>(<span class="k">function</span> () {
            <span class="p">$</span>(<span class="s">"#switch"</span>).click(<span class="k">function</span> () {<span class="c">//全选/全不选</span>
                <span class="k">if</span>(<span class="k">this</span>.checked){<span class="c">//如果全选的复选框被选中</span>
                    <span class="p">$</span>(<span class="s">":checkbox[name='items']"</span>).attr(<span class="s">"checked"</span>, <span class="k">true</span>);
                }<span class="k">else</span>{<span class="c">//如果全选的复选框没有被选中</span>
                    <span class="p">$</span>(<span class="s">":checkbox[name='items']"</span>).attr(<span class="s">"checked"</span>, <span class="k">false</span>);
                }
            });
            <span class="p">$</span>(<span class="s">":checkbox[name='items']"</span>).click(<span class="k">function</span> () {
                <span class="k">if</span>(<span class="p">$</span>(<span class="s">":checkbox[name='items']:checked"</span>).length == <span class="n">4</span>){<span class="c">//如果被选中的项目的个数为4，则将全选/全不选选中</span>
                    <span class="p">$</span>(<span class="s">"#switch"</span>).attr(<span class="s">"checked"</span>, <span class="k">true</span>);
                }<span class="k">else</span>{<span class="c">//否则取消选中</span>
                    <span class="p">$</span>(<span class="s">"#switch"</span>).attr(<span class="s">"checked"</span>, <span class="k">false</span>);
                }
            });
            <span class="p">$</span>(<span class="s">"#selectAll"</span>).click(<span class="k">function</span> () {<span class="c">//全选</span>
                <span class="p">$</span>(<span class="s">":checkbox"</span>).attr(<span class="s">"checked"</span>, <span class="k">true</span>);
            });
            <span class="p">$</span>(<span class="s">"#selectNone"</span>).click(<span class="k">function</span> () {<span class="c">//全不选</span>
                <span class="p">$</span>(<span class="s">":checkbox"</span>).attr(<span class="s">"checked"</span>, <span class="k">false</span>);
            });
            <span class="p">$</span>(<span class="s">"#reverse"</span>).click(<span class="k">function</span> () {<span class="c">//反选</span>
                <span class="p">$</span>(<span class="s">"[name='items']"</span>).each(<span class="k">function</span> () {
                    <span class="k">this</span>.checked = !<span class="k">this</span>.checked;
                });
                <span class="k">if</span>(<span class="p">$</span>(<span class="s">":checkbox[name='items']:checked"</span>).length == <span class="n">4</span>){<span class="c">//最后判断一个是否已经选中了所有运动</span>
                    <span class="p">$</span>(<span class="s">"#switch"</span>).attr(<span class="s">"checked"</span>, <span class="k">true</span>);
                }<span class="k">else</span>{
                    <span class="p">$</span>(<span class="s">"#switch"</span>).attr(<span class="s">"checked"</span>, <span class="k">false</span>);
                }
            });
            <span class="p">$</span>(<span class="s">"#submit"</span>).click(<span class="k">function</span> () {<span class="c">//提交按钮</span>
                <span class="p">$</span>(<span class="s">"[name='items']:checked"</span>).each(<span class="k">function</span> () {
                    alert(<span class="k">this</span>.value);
                });
            });
        });
    <span class="t">&lt;/script&gt;</span></pre></div>

<div class="cb" style="left:708px;top:754px;width:174px;height:130px"><pre><span class="t">&lt;/head&gt;</span>
<span class="t">&lt;body&gt;</span>
    <span class="t">&lt;center&gt;</span>
        <span class="t">&lt;div class=</span><span class="s">"content"</span>&gt;练习6：多选框应用<span class="t">&lt;/div&gt;</span>
        <span class="t">&lt;div class=</span><span class="s">"content"</span>&gt;你喜欢什么运动？<span class="t">&lt;/div&gt;</span>
        <span class="t">&lt;div class=</span><span class="s">"content"</span>&gt;
            <span class="t">&lt;input type=</span><span class="s">"checkbox"</span> id=<span class="s">"switch"</span>&gt;全选/全不选
        <span class="t">&lt;/div&gt;</span>
        <span class="t">&lt;div class=</span><span class="s">"content"</span>&gt;
            <span class="t">&lt;input type=</span><span class="s">"checkbox"</span> name=<span class="s">"items"</span> value=<span class="s">"badminton"</span>&gt;羽毛球
            <span class="t">&lt;input type=</span><span class="s">"checkbox"</span> name=<span class="s">"items"</span> value=<span class="s">"basketball"</span>&gt;篮球
            <span class="t">&lt;input type=</span><span class="s">"checkbox"</span> name=<span class="s">"items"</span> value=<span class="s">"tennis"</span>&gt;网球
            <span class="t">&lt;input type=</span><span class="s">"checkbox"</span> name=<span class="s">"items"</span> value=<span class="s">"volleyball"</span>&gt;排球
        <span class="t">&lt;/div&gt;</span>
        <span class="t">&lt;div class=</span><span class="s">"content"</span>&gt;
            <span class="t">&lt;button id=</span><span class="s">"selectAll"</span>&gt;全选<span class="t">&lt;/button&gt;</span>
            <span class="t">&lt;button id=</span><span class="s">"selectNone"</span>&gt;全不选<span class="t">&lt;/button&gt;</span>
            <span class="t">&lt;button id=</span><span class="s">"reverse"</span>&gt;反选<span class="t">&lt;/button&gt;</span>
            <span class="t">&lt;button id=</span><span class="s">"submit"</span>&gt;提交<span class="t">&lt;/button&gt;</span>
        <span class="t">&lt;/div&gt;</span>
    <span class="t">&lt;/center&gt;</span>
<span class="t">&lt;/body&gt;</span>
<span class="t">&lt;/html&gt;</span></pre></div>

<div class="cb" style="left:250px;top:937px;width:140px;height:165px"><pre><span class="t">&lt;!DOCTYPE html&gt;</span>
<span class="t">&lt;html lang=</span><span class="s">"en"</span>&gt;
<span class="t">&lt;head&gt;</span>
    <span class="t">&lt;meta charset=</span><span class="s">"UTF-8"</span>&gt;
    <span class="t">&lt;title&gt;</span>Select<span class="t">&lt;/title&gt;</span>
    <span class="t">&lt;style type=</span><span class="s">"text/css"</span>&gt;
        <span class="k">body</span>{
            background-image: url(<span class="s">'../image.jpg'</span>);
            background-position: center;
            background-attachment: fixed;
            background-size: cover;
            font-family: <span class="s">"Microsoft YaHei"</span>;
            text-align: center;
            color: cyan;
            font-size: 30px;
        }
        <span class="k">.wrap</span>{
            width: 340px;
            float: left;
            padding: 20px;
        }
        <span class="k">select</span>{
            color: #ffffff;
            font-size: 25px;
            margin: 10px;
            padding: 5px;
            width: 300px;
            height: 300px;
            border: cyan 1px solid;
            background-color: rgba(255, 255, 255, 0.1);</pre></div>

<div class="cb" style="left:397px;top:930px;width:140px;height:176px"><pre>        <span class="k">option:hover</span>{
            background-color: rgba(0, 255, 255, 0.1);
            color: cyan;
        }
        <span class="k">.selected</span>{
            background-color: rgba(0, 255, 255, 0.5);
            color: red;
        }
        <span class="k">button</span>{
            width: 300px;
            height: 50px;
            margin: 5px;
            padding: 5px;
            border: cyan 1px solid;
            background-color: rgba(0, 255, 255, 0.2);
            color: cyan;
            font-size: 20px;
        }
        <span class="k">.hover</span>{
            background-color: rgba(0, 200, 255, 0.4);
        }
        <span class="k">.down</span>{
            background-color: rgba(255, 0, 0, 0.4);
        }
        <span class="k">.content</span>{
            border: cyan 1px solid;
            width: 800px;
            margin: 5px;
            padding: 5px;
            background-color: rgba(255, 255, 255, 0.1);
        }
    <span class="t">&lt;/style&gt;</span></pre></div>

<div class="cb" style="left:545px;top:940px;width:348px;height:152px"><pre>    <span class="t">&lt;script type=</span><span class="s">"text/javascript"</span> src=<span class="s">"../jquery-1.7.2.js"</span>&gt;<span class="t">&lt;/script&gt;</span>
    <span class="t">&lt;script type=</span><span class="s">"text/javascript"</span>&gt;
        <span class="p">$</span>(<span class="k">function</span> () {
            <span class="p">$</span>(<span class="s">"option:selected"</span>).addClass(<span class="s">"selected"</span>);
            <span class="p">$</span>(<span class="s">"button"</span>).mousedown(<span class="k">function</span> () {
                <span class="p">$</span>(<span class="k">this</span>).addClass(<span class="s">"down"</span>);
            }).mouseup(<span class="k">function</span> () {
                <span class="p">$</span>(<span class="k">this</span>).removeClass(<span class="s">"down"</span>);
            });
            <span class="p">$</span>(<span class="s">"button"</span>).hover(<span class="k">function</span> () {
                <span class="p">$</span>(<span class="k">this</span>).addClass(<span class="s">"hover"</span>);
            }, <span class="k">function</span> () {
                <span class="p">$</span>(<span class="k">this</span>).removeClass(<span class="s">"hover"</span>);
            });
            <span class="p">$</span>(<span class="s">"button:eq(0)"</span>).click(<span class="k">function</span> () {<span class="c">//选中移动到右边</span>
                <span class="p">$</span>(<span class="s">"select:first option:selected"</span>).appendTo(<span class="s">"select:last"</span>).attr(<span class="s">"selected"</span>, <span class="k">false</span>);<span class="c">//先将选中的选项添加到右边的框中，随时取消选中状态</span>
            });
            <span class="p">$</span>(<span class="s">"button:eq(1)"</span>).click(<span class="k">function</span> () {<span class="c">//全部移动到右边</span>
                <span class="p">$</span>(<span class="s">"select:first option"</span>).appendTo(<span class="s">"select:last"</span>).attr(<span class="s">"selected"</span>, <span class="k">false</span>);<span class="c">//先将全部的选项添加到右边的框中，随时取消选中状态</span>
            });
            <span class="p">$</span>(<span class="s">"button:eq(2)"</span>).click(<span class="k">function</span> () {<span class="c">//选中移动到左边</span>
                <span class="p">$</span>(<span class="s">"select:last option:selected"</span>).appendTo(<span class="s">"select:first"</span>).attr(<span class="s">"selected"</span>, <span class="k">false</span>);<span class="c">//先将选中的选项添加到左边的框中，随时取消选中状态</span>
            });
            <span class="p">$</span>(<span class="s">"button:eq(3)"</span>).click(<span class="k">function</span> () {<span class="c">//全部移动到左边</span>
                <span class="p">$</span>(<span class="s">"select:last option"</span>).appendTo(<span class="s">"select:first"</span>).attr(<span class="s">"selected"</span>, <span class="k">false</span>);<span class="c">//先将全部的选项添加到左边的框中，随时取消选中状态</span>
            });
        });
    <span class="t">&lt;/script&gt;</span></pre></div>

<div class="cb" style="left:898px;top:942px;width:120px;height:148px"><pre><span class="t">&lt;/head&gt;</span>
<span class="t">&lt;body&gt;</span>
<span class="t">&lt;center&gt;</span>
    <span class="t">&lt;div class=</span><span class="s">"content"</span>&gt;练习7：下拉框应用<span class="t">&lt;/div&gt;</span>
    <span class="t">&lt;div style=</span><span class="s">"width: 740px; padding: 0"</span>&gt;
        <span class="t">&lt;div class=</span><span class="s">"wrap"</span>&gt;
            <span class="t">&lt;select multiple=</span><span class="s">"multiple"</span>&gt;
                <span class="t">&lt;option&gt;</span>Option 1<span class="t">&lt;/option&gt;</span>
                <span class="t">&lt;option&gt;</span>Option 2<span class="t">&lt;/option&gt;</span>
                <span class="t">&lt;option&gt;</span>Option 3<span class="t">&lt;/option&gt;</span>
                <span class="t">&lt;option&gt;</span>Option 4<span class="t">&lt;/option&gt;</span>
                <span class="t">&lt;option&gt;</span>Option 5<span class="t">&lt;/option&gt;</span>
                <span class="t">&lt;option&gt;</span>Option 6<span class="t">&lt;/option&gt;</span>
                <span class="t">&lt;option&gt;</span>Option 7<span class="t">&lt;/option&gt;</span>
                <span class="t">&lt;option&gt;</span>Option 8<span class="t">&lt;/option&gt;</span>
            <span class="t">&lt;/select&gt;</span>
            <span class="t">&lt;button&gt;</span>选中移动到右边&gt;&gt;<span class="t">&lt;/button&gt;</span>
            <span class="t">&lt;button&gt;</span>全部移动到右边&gt;&gt;<span class="t">&lt;/button&gt;</span>
        <span class="t">&lt;/div&gt;</span>
        <span class="t">&lt;div class=</span><span class="s">"wrap"</span>&gt;
            <span class="t">&lt;select multiple=</span><span class="s">"multiple"</span>&gt;<span class="t">&lt;/select&gt;</span>
            <span class="t">&lt;button&gt;</span>&lt;&lt;选中移动到左边<span class="t">&lt;/button&gt;</span>
            <span class="t">&lt;button&gt;</span>&lt;&lt;全部移动到左边<span class="t">&lt;/button&gt;</span>
        <span class="t">&lt;/div&gt;</span>
    <span class="t">&lt;/div&gt;</span>
<span class="t">&lt;/center&gt;</span>
<span class="t">&lt;/body&gt;</span>
<span class="t">&lt;/html&gt;</span></pre></div>

<div class="cb" style="left:395px;top:1165px;width:140px;height:227px"><pre><span class="t">&lt;!DOCTYPE html&gt;</span>
<span class="t">&lt;html lang=</span><span class="s">"en"</span>&gt;
<span class="t">&lt;head&gt;</span>
    <span class="t">&lt;meta charset=</span><span class="s">"UTF-8"</span>&gt;
    <span class="t">&lt;title&gt;</span>Employee<span class="t">&lt;/title&gt;</span>
    <span class="t">&lt;style type=</span><span class="s">"text/css"</span>&gt;
        <span class="k">body</span>{
            background-image: url(<span class="s">'../image.jpg'</span>);
            background-position: center;
            background-attachment: fixed;
            background-size: cover;
            text-align: center;
            font-family: <span class="s">"Microsoft YaHei"</span>;
            color: cyan;
            font-size: 20px;
        }
        <span class="k">td</span>{
            background-color: rgba(255, 255, 255, 0.2);
            border: 1px #00ffff solid;
            width: 400px;
            height: 40px;
            padding: 5px;
            margin: 0px;
            text-align: center;
        }
        <span class="k">a</span>{
            color: inherit;
        }
        <span class="k">.div</span>{
            width: 1610px;
            height: 40px;
            padding: 0px;
            margin: 0px;
        }
        <span class="k">.h</span>{
            font-size: 20px;
            background-color: rgba(0, 255, 255, 0.2);
            border: cyan 1px solid;
            margin: 5px;
            padding: 5px;
            width: 1570px;
            height: 30px;
            float: left;</pre></div>

<div class="cb" style="left:542px;top:1180px;width:141px;height:198px"><pre>        <span class="k">.h:hover</span>{
            background-color: rgba(0, 200, 255, 0.4);
        }
        <span class="k">input</span>{
            background-color: rgba(0, 255, 255, 0.2);
            border: cyan 1px solid;
            margin: 5px;
            padding: 5px;
            width: 300px;
            height: 30px;
            float: left;
            color: cyan;
            font-size: 20px;
        }
        <span class="k">input:hover</span>{
            background-color: rgba(0, 255, 255, 0.4);
        }
        <span class="k">.head</span>{
            background-color: rgba(0, 255, 255, 0.2);
            border: cyan 1px solid;
            margin: 5px;
            padding: 5px;
            width: 1570px;
            height: 40px;
            float: left;
            color: cyan;
            font-size: 30px;
        }
        <span class="k">.hover</span>{
            background-color: rgba(100, 200, 255, 0.4);
        }
        <span class="k">.click</span>{
            background-color: rgba(255, 120, 0, 0.4);
            color: red;
            border: red 1px solid;
        }
    <span class="t">&lt;/style&gt;</span></pre></div>

<div class="cb" style="left:690px;top:1172px;width:148px;height:208px"><pre><span class="t">&lt;/head&gt;</span>
<span class="t">&lt;body&gt;</span>
<span class="t">&lt;center&gt;</span>
    <span class="t">&lt;div class=</span><span class="s">"div"</span>&gt;
        <span class="t">&lt;div class=</span><span class="s">"head"</span>&gt;添加新员工<span class="t">&lt;/div&gt;</span>
        <span class="t">&lt;div class=</span><span class="s">"h"</span>&gt;Name: <span class="t">&lt;input type=</span><span class="s">"text"</span>&gt;
        <span class="t">&lt;div class=</span><span class="s">"h"</span>&gt;Email: <span class="t">&lt;input type=</span><span class="s">"text"</span>&gt;
        <span class="t">&lt;div class=</span><span class="s">"h"</span>&gt;Salary: <span class="t">&lt;input type=</span><span class="s">"text"</span>&gt;
        <span class="t">&lt;div id=</span><span class="s">"button"</span> class=<span class="s">"head"</span>&gt;Submit<span class="t">&lt;/div&gt;</span>
    <span class="t">&lt;/div&gt;</span>
    <span class="t">&lt;table&gt;</span>
        <span class="t">&lt;tr&gt;</span>
            <span class="t">&lt;td&gt;</span>Name<span class="t">&lt;/td&gt;</span>
            <span class="t">&lt;td&gt;</span>Email<span class="t">&lt;/td&gt;</span>
            <span class="t">&lt;td&gt;</span>Salary<span class="t">&lt;/td&gt;</span>
            <span class="t">&lt;td&gt;&lt;/td&gt;</span>
        <span class="t">&lt;/tr&gt;</span>
        <span class="t">&lt;tr&gt;</span>
            <span class="t">&lt;td&gt;</span>Sam<span class="t">&lt;/td&gt;</span>
            <span class="t">&lt;td&gt;</span>Sam@outlook.com<span class="t">&lt;/td&gt;</span>
            <span class="t">&lt;td&gt;</span>2000<span class="t">&lt;/td&gt;</span>
            <span class="t">&lt;td class=</span><span class="s">"delete"</span>&gt;<span class="t">&lt;a href=</span><span class="s">"#"</span>&gt;Delete<span class="t">&lt;/a&gt;&lt;/td&gt;</span>
        <span class="t">&lt;/tr&gt;</span>
        <span class="t">&lt;tr&gt;</span>
            <span class="t">&lt;td&gt;</span>Tom<span class="t">&lt;/td&gt;</span>
            <span class="t">&lt;td&gt;</span>Tom@outlook.com<span class="t">&lt;/td&gt;</span>
            <span class="t">&lt;td&gt;</span>1000<span class="t">&lt;/td&gt;</span>
            <span class="t">&lt;td class=</span><span class="s">"delete"</span>&gt;<span class="t">&lt;a href=</span><span class="s">"#"</span>&gt;Delete<span class="t">&lt;/a&gt;&lt;/td&gt;</span>
        <span class="t">&lt;/tr&gt;</span>
        <span class="t">&lt;tr&gt;</span>
            <span class="t">&lt;td&gt;</span>Pitter<span class="t">&lt;/td&gt;</span>
            <span class="t">&lt;td&gt;</span>Pitter@outlook.com<span class="t">&lt;/td&gt;</span>
            <span class="t">&lt;td&gt;</span>3000<span class="t">&lt;/td&gt;</span>
            <span class="t">&lt;td class=</span><span class="s">"delete"</span>&gt;<span class="t">&lt;a href=</span><span class="s">"#"</span>&gt;Delete<span class="t">&lt;/a&gt;&lt;/td&gt;</span>
        <span class="t">&lt;/tr&gt;</span>
    <span class="t">&lt;/table&gt;</span>
<span class="t">&lt;/center&gt;</span>
<span class="t">&lt;/body&gt;</span>
<span class="t">&lt;/html&gt;</span></pre></div>

<div class="cb" style="left:845px;top:1107px;width:400px;height:340px"><pre>    <span class="t">&lt;script type=</span><span class="s">"text/javascript"</span> src=<span class="s">"../jquery-1.7.2.js"</span>&gt;<span class="t">&lt;/script&gt;</span>
    <span class="t">&lt;script type=</span><span class="s">"text/javascript"</span>&gt;
        <span class="p">$</span>(<span class="k">function</span> () {
            <span class="p">$</span>(<span class="s">".head"</span>).hover(<span class="k">function</span> () {
                <span class="p">$</span>(<span class="k">this</span>).addClass(<span class="s">"hover"</span>);
            }, <span class="k">function</span> () {
                <span class="p">$</span>(<span class="k">this</span>).removeClass(<span class="s">"hover"</span>);
            });
            <span class="p">$</span>(<span class="s">"#button"</span>).mousedown(<span class="k">function</span> () {
                <span class="p">$</span>(<span class="k">this</span>).addClass(<span class="s">"click"</span>);
            }).mouseup(<span class="k">function</span> () {
                <span class="p">$</span>(<span class="k">this</span>).removeClass(<span class="s">"click"</span>);
            });
            <span class="p">$</span>(<span class="s">"#button"</span>).click(<span class="k">function</span> () {<span class="c">//Submit按钮点击事件</span>
                <span class="k">var</span> flag = <span class="k">false</span>;
                <span class="p">$</span>(<span class="s">"input"</span>).each(<span class="k">function</span> () {
                    <span class="k">return</span> $.trim(<span class="k">this</span>.value) != <span class="s">""</span>;<span class="c">//判断每个输入框是否为空</span>
                    <span class="k">if</span>(<span class="k">this</span>.value == <span class="s">""</span>){<span class="c">//如果有一个输入框为空，则将标记设为</span>
                        flag = <span class="k">true</span>;
                    }
                });
                <span class="k">if</span>(flag){<span class="c">//如果flag标记为true则说明有输入框为空，那么提示用户将信息填写完整并且不添加员工信息</span>
                    alert(<span class="s">"Missing input information!"</span>);
                    <span class="k">return false</span>;
                }
                <span class="c">//如果三个输入框都有值，添加新员工</span>
                <span class="k">var</span> $trNode = <span class="p">$</span>(<span class="s">"&lt;tr&gt;&lt;td&gt;"</span> + <span class="p">$</span>(<span class="s">"input:eq(0)"</span>).val() + <span class="s">"&lt;/td&gt;&lt;td&gt;"</span> + <span class="p">$</span>(<span class="s">"input:eq(1)"</span>).val() + <span class="s">"&lt;/td&gt;&lt;td&gt;"</span> + <span class="p">$</span>(<span class="s">"input:eq(2)"</span>).val() + <span class="s">"&lt;/td&gt;&lt;/tr&gt;"</span>);
                <span class="k">var</span> $tdNode = <span class="p">$</span>(<span class="s">"&lt;td class='delete'&gt;&lt;a href='#'&gt;Delete&lt;/a&gt;&lt;/td&gt;"</span>).click(<span class="k">function</span> () {<span class="c">//新建的Delete节点添加click事件</span>
                    <span class="k">if</span>(confirm(<span class="s">"Confirm delete "</span> + <span class="p">$</span>(<span class="k">this</span>).children(<span class="s">"td:first"</span>).text() + <span class="s">"?"</span>)){<span class="c">//确认删除</span>
                        <span class="p">$</span>(<span class="k">this</span>).parentNode().remove();
                    }
                    <span class="k">return false</span>;
                });
                $tdNode.mousedown(<span class="k">function</span> () {<span class="c">//设置按钮的效果</span>
                    <span class="p">$</span>(<span class="k">this</span>).addClass(<span class="s">"click"</span>);
                }).mouseup(<span class="k">function</span> () {
                    <span class="p">$</span>(<span class="k">this</span>).removeClass(<span class="s">"click"</span>);
                });
                $trNode.append($tdNode);<span class="c">//将Delete节点添加到一个tr节点中</span>
                $trNode.children(<span class="s">"td"</span>).hover(<span class="k">function</span> () {<span class="c">//设置悬停效果</span>
                    <span class="p">$</span>(<span class="k">this</span>).addClass(<span class="s">"hover"</span>);
                }, <span class="k">function</span> () {
                    <span class="p">$</span>(<span class="k">this</span>).removeClass(<span class="s">"hover"</span>);
                });
                <span class="p">$</span>(<span class="s">"table"</span>).append($trNode);<span class="c">//在table节点中添加新的tr节点</span>
                <span class="p">$</span>(<span class="s">"input"</span>).val(<span class="s">""</span>);<span class="c">//清空输入框</span>
            });
            <span class="p">$</span>(<span class="s">"td"</span>).hover(<span class="k">function</span> () {<span class="c">//设置悬停效果</span>
                <span class="p">$</span>(<span class="k">this</span>).addClass(<span class="s">"hover"</span>);
            }, <span class="k">function</span> () {
                <span class="p">$</span>(<span class="k">this</span>).removeClass(<span class="s">"hover"</span>);
            });
            <span class="p">$</span>(<span class="s">".delete"</span>).mousedown(<span class="k">function</span> () {<span class="c">//设置按钮的效果</span>
                <span class="p">$</span>(<span class="k">this</span>).addClass(<span class="s">"click"</span>);
            }).mouseup(<span class="k">function</span> () {
                <span class="p">$</span>(<span class="k">this</span>).removeClass(<span class="s">"click"</span>);
            });
            <span class="p">$</span>(<span class="s">".delete"</span>).click(<span class="k">function</span> () {<span class="c">//为delete节点添加click事件</span>
                <span class="k">if</span>(confirm(<span class="s">"Confirm delete "</span> + <span class="p">$</span>(<span class="k">this</span>).children(<span class="s">"td:first"</span>).text() + <span class="s">"?"</span>)){<span class="c">//确认删除，确认后删除整个tr节点</span>
                    <span class="p">$</span>(<span class="k">this</span>).parentNode().remove();
                }
                <span class="k">return false</span>;
            });
        });
    <span class="t">&lt;/script&gt;</span></pre></div>

</div></body></html>
